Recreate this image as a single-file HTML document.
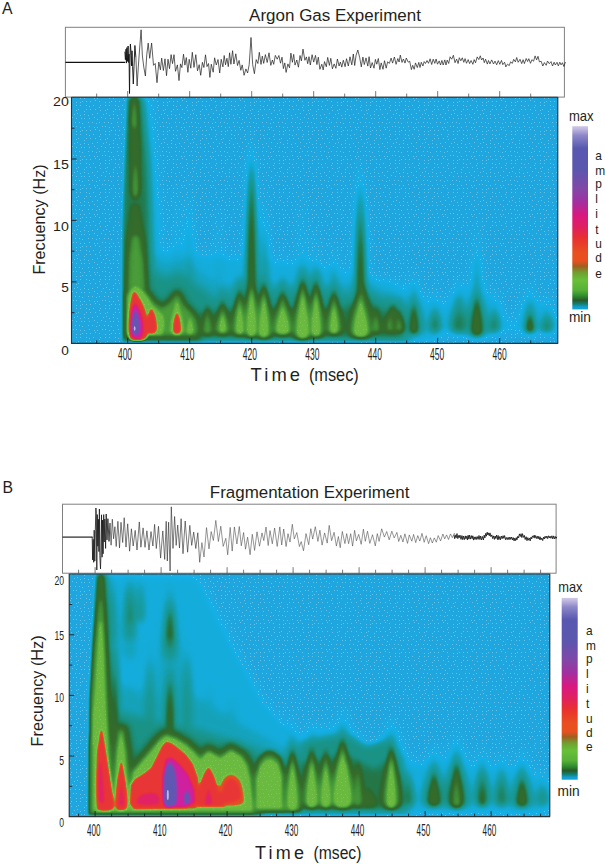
<!DOCTYPE html>
<html lang="en"><head><meta charset="utf-8"><title>Spectrograms</title>
<style>
html,body{margin:0;padding:0;background:#fff}
svg{display:block}
text{font-family:"Liberation Sans", sans-serif;fill:#231f20}
</style></head><body>
<svg width="605" height="864" viewBox="0 0 605 864">
<defs>
<filter id="cmA" filterUnits="userSpaceOnUse" x="71.5" y="97.5" width="486.3" height="245.9" color-interpolation-filters="sRGB">
<feComponentTransfer><feFuncR type="table" tableValues="0.129 0.128 0.126 0.125 0.124 0.122 0.121 0.119 0.118 0.113 0.109 0.104 0.100 0.096 0.091 0.087 0.082 0.082 0.081 0.081 0.080 0.080 0.079 0.079 0.078 0.079 0.080 0.081 0.082 0.083 0.084 0.085 0.086 0.088 0.089 0.090 0.092 0.093 0.094 0.095 0.097 0.098 0.099 0.101 0.102 0.104 0.106 0.108 0.110 0.112 0.114 0.116 0.118 0.120 0.122 0.128 0.134 0.141 0.147 0.153 0.160 0.166 0.173 0.176 0.180 0.183 0.187 0.191 0.194 0.198 0.201 0.205 0.208 0.212 0.216 0.218 0.221 0.223 0.225 0.228 0.230 0.233 0.235 0.244 0.253 0.262 0.271 0.279 0.288 0.297 0.306 0.318 0.329 0.341 0.353 0.365 0.376 0.388 0.400 0.403 0.406 0.410 0.413 0.416 0.419 0.422 0.426 0.429 0.432 0.435 0.439 0.442 0.445 0.448 0.451 0.455 0.458 0.461 0.464 0.467 0.471 0.481 0.491 0.501 0.511 0.521 0.531 0.541 0.602 0.664 0.725 0.786 0.847 0.856 0.865 0.874 0.882 0.891 0.900 0.909 0.918 0.917 0.917 0.916 0.915 0.915 0.914 0.914 0.913 0.913 0.912 0.911 0.911 0.910 0.910 0.907 0.904 0.900 0.897 0.894 0.891 0.888 0.885 0.882 0.878 0.872 0.866 0.860 0.853 0.847 0.841 0.835 0.828 0.822 0.816 0.784 0.753 0.722 0.690 0.659 0.627 0.596 0.565 0.541 0.517 0.493 0.469 0.445 0.421 0.397 0.373 0.411 0.449 0.487 0.525 0.563 0.601 0.639 0.677 0.715 0.753"/><feFuncG type="table" tableValues="0.651 0.653 0.655 0.657 0.659 0.661 0.663 0.665 0.667 0.670 0.673 0.675 0.678 0.681 0.684 0.687 0.690 0.687 0.684 0.681 0.678 0.675 0.673 0.670 0.667 0.661 0.656 0.650 0.645 0.640 0.634 0.629 0.624 0.620 0.616 0.613 0.609 0.606 0.602 0.598 0.595 0.591 0.588 0.584 0.580 0.572 0.564 0.556 0.547 0.539 0.531 0.523 0.515 0.506 0.498 0.488 0.477 0.467 0.457 0.447 0.436 0.426 0.416 0.416 0.417 0.418 0.418 0.419 0.420 0.420 0.421 0.422 0.422 0.423 0.424 0.439 0.455 0.471 0.486 0.502 0.518 0.533 0.549 0.560 0.571 0.581 0.592 0.603 0.614 0.625 0.635 0.645 0.655 0.665 0.675 0.684 0.694 0.704 0.714 0.716 0.719 0.721 0.724 0.726 0.729 0.731 0.734 0.736 0.739 0.741 0.744 0.746 0.749 0.751 0.754 0.756 0.759 0.761 0.764 0.766 0.769 0.748 0.728 0.708 0.688 0.668 0.648 0.627 0.577 0.527 0.477 0.427 0.376 0.363 0.349 0.335 0.322 0.308 0.294 0.280 0.267 0.261 0.255 0.250 0.244 0.239 0.233 0.227 0.222 0.216 0.211 0.205 0.199 0.194 0.188 0.182 0.176 0.169 0.163 0.157 0.151 0.144 0.138 0.132 0.125 0.125 0.125 0.125 0.125 0.125 0.125 0.125 0.125 0.125 0.125 0.141 0.157 0.173 0.188 0.204 0.220 0.235 0.251 0.263 0.275 0.286 0.298 0.310 0.322 0.333 0.345 0.383 0.420 0.458 0.496 0.533 0.571 0.609 0.646 0.684 0.722"/><feFuncB type="table" tableValues="0.871 0.873 0.875 0.876 0.878 0.880 0.882 0.884 0.886 0.889 0.892 0.895 0.898 0.901 0.904 0.907 0.910 0.900 0.890 0.880 0.871 0.861 0.851 0.841 0.831 0.813 0.794 0.775 0.757 0.738 0.720 0.701 0.682 0.670 0.658 0.645 0.633 0.620 0.608 0.595 0.583 0.571 0.558 0.546 0.533 0.515 0.496 0.477 0.458 0.439 0.420 0.402 0.383 0.364 0.345 0.325 0.306 0.286 0.267 0.247 0.227 0.208 0.188 0.186 0.184 0.182 0.180 0.178 0.176 0.175 0.173 0.171 0.169 0.167 0.165 0.171 0.176 0.182 0.188 0.194 0.200 0.206 0.212 0.214 0.216 0.218 0.220 0.222 0.224 0.225 0.227 0.229 0.231 0.233 0.235 0.237 0.239 0.241 0.243 0.244 0.245 0.246 0.247 0.248 0.250 0.251 0.252 0.253 0.254 0.255 0.256 0.257 0.258 0.259 0.260 0.261 0.262 0.263 0.265 0.266 0.267 0.255 0.244 0.233 0.222 0.211 0.199 0.188 0.174 0.160 0.146 0.132 0.118 0.123 0.127 0.132 0.137 0.142 0.147 0.152 0.157 0.162 0.168 0.174 0.179 0.185 0.190 0.196 0.202 0.207 0.213 0.218 0.224 0.230 0.235 0.256 0.276 0.296 0.317 0.337 0.358 0.378 0.398 0.419 0.439 0.458 0.477 0.496 0.515 0.533 0.552 0.571 0.590 0.609 0.627 0.635 0.643 0.651 0.659 0.667 0.675 0.682 0.690 0.692 0.694 0.696 0.698 0.700 0.702 0.704 0.706 0.725 0.744 0.762 0.781 0.800 0.819 0.838 0.856 0.875 0.894"/></feComponentTransfer></filter>
<filter id="cmB" filterUnits="userSpaceOnUse" x="69.2" y="574.2" width="480.6" height="242.4" color-interpolation-filters="sRGB">
<feComponentTransfer><feFuncR type="table" tableValues="0.129 0.128 0.126 0.125 0.124 0.122 0.121 0.119 0.118 0.113 0.109 0.104 0.100 0.096 0.091 0.087 0.082 0.082 0.081 0.081 0.080 0.080 0.079 0.079 0.078 0.079 0.080 0.081 0.082 0.083 0.084 0.085 0.086 0.088 0.089 0.090 0.092 0.093 0.094 0.095 0.097 0.098 0.099 0.101 0.102 0.104 0.106 0.108 0.110 0.112 0.114 0.116 0.118 0.120 0.122 0.128 0.134 0.141 0.147 0.153 0.160 0.166 0.173 0.176 0.180 0.183 0.187 0.191 0.194 0.198 0.201 0.205 0.208 0.212 0.216 0.218 0.221 0.223 0.225 0.228 0.230 0.233 0.235 0.244 0.253 0.262 0.271 0.279 0.288 0.297 0.306 0.318 0.329 0.341 0.353 0.365 0.376 0.388 0.400 0.403 0.406 0.410 0.413 0.416 0.419 0.422 0.426 0.429 0.432 0.435 0.439 0.442 0.445 0.448 0.451 0.455 0.458 0.461 0.464 0.467 0.471 0.481 0.491 0.501 0.511 0.521 0.531 0.541 0.602 0.664 0.725 0.786 0.847 0.856 0.865 0.874 0.882 0.891 0.900 0.909 0.918 0.917 0.917 0.916 0.915 0.915 0.914 0.914 0.913 0.913 0.912 0.911 0.911 0.910 0.910 0.907 0.904 0.900 0.897 0.894 0.891 0.888 0.885 0.882 0.878 0.872 0.866 0.860 0.853 0.847 0.841 0.835 0.828 0.822 0.816 0.784 0.753 0.722 0.690 0.659 0.627 0.596 0.565 0.541 0.517 0.493 0.469 0.445 0.421 0.397 0.373 0.411 0.449 0.487 0.525 0.563 0.601 0.639 0.677 0.715 0.753"/><feFuncG type="table" tableValues="0.651 0.653 0.655 0.657 0.659 0.661 0.663 0.665 0.667 0.670 0.673 0.675 0.678 0.681 0.684 0.687 0.690 0.687 0.684 0.681 0.678 0.675 0.673 0.670 0.667 0.661 0.656 0.650 0.645 0.640 0.634 0.629 0.624 0.620 0.616 0.613 0.609 0.606 0.602 0.598 0.595 0.591 0.588 0.584 0.580 0.572 0.564 0.556 0.547 0.539 0.531 0.523 0.515 0.506 0.498 0.488 0.477 0.467 0.457 0.447 0.436 0.426 0.416 0.416 0.417 0.418 0.418 0.419 0.420 0.420 0.421 0.422 0.422 0.423 0.424 0.439 0.455 0.471 0.486 0.502 0.518 0.533 0.549 0.560 0.571 0.581 0.592 0.603 0.614 0.625 0.635 0.645 0.655 0.665 0.675 0.684 0.694 0.704 0.714 0.716 0.719 0.721 0.724 0.726 0.729 0.731 0.734 0.736 0.739 0.741 0.744 0.746 0.749 0.751 0.754 0.756 0.759 0.761 0.764 0.766 0.769 0.748 0.728 0.708 0.688 0.668 0.648 0.627 0.577 0.527 0.477 0.427 0.376 0.363 0.349 0.335 0.322 0.308 0.294 0.280 0.267 0.261 0.255 0.250 0.244 0.239 0.233 0.227 0.222 0.216 0.211 0.205 0.199 0.194 0.188 0.182 0.176 0.169 0.163 0.157 0.151 0.144 0.138 0.132 0.125 0.125 0.125 0.125 0.125 0.125 0.125 0.125 0.125 0.125 0.125 0.141 0.157 0.173 0.188 0.204 0.220 0.235 0.251 0.263 0.275 0.286 0.298 0.310 0.322 0.333 0.345 0.383 0.420 0.458 0.496 0.533 0.571 0.609 0.646 0.684 0.722"/><feFuncB type="table" tableValues="0.871 0.873 0.875 0.876 0.878 0.880 0.882 0.884 0.886 0.889 0.892 0.895 0.898 0.901 0.904 0.907 0.910 0.900 0.890 0.880 0.871 0.861 0.851 0.841 0.831 0.813 0.794 0.775 0.757 0.738 0.720 0.701 0.682 0.670 0.658 0.645 0.633 0.620 0.608 0.595 0.583 0.571 0.558 0.546 0.533 0.515 0.496 0.477 0.458 0.439 0.420 0.402 0.383 0.364 0.345 0.325 0.306 0.286 0.267 0.247 0.227 0.208 0.188 0.186 0.184 0.182 0.180 0.178 0.176 0.175 0.173 0.171 0.169 0.167 0.165 0.171 0.176 0.182 0.188 0.194 0.200 0.206 0.212 0.214 0.216 0.218 0.220 0.222 0.224 0.225 0.227 0.229 0.231 0.233 0.235 0.237 0.239 0.241 0.243 0.244 0.245 0.246 0.247 0.248 0.250 0.251 0.252 0.253 0.254 0.255 0.256 0.257 0.258 0.259 0.260 0.261 0.262 0.263 0.265 0.266 0.267 0.255 0.244 0.233 0.222 0.211 0.199 0.188 0.174 0.160 0.146 0.132 0.118 0.123 0.127 0.132 0.137 0.142 0.147 0.152 0.157 0.162 0.168 0.174 0.179 0.185 0.190 0.196 0.202 0.207 0.213 0.218 0.224 0.230 0.235 0.256 0.276 0.296 0.317 0.337 0.358 0.378 0.398 0.419 0.439 0.458 0.477 0.496 0.515 0.533 0.552 0.571 0.590 0.609 0.627 0.635 0.643 0.651 0.659 0.667 0.675 0.682 0.690 0.692 0.694 0.696 0.698 0.700 0.702 0.704 0.706 0.725 0.744 0.762 0.781 0.800 0.819 0.838 0.856 0.875 0.894"/></feComponentTransfer></filter>
<filter id="thA" filterUnits="userSpaceOnUse" x="71.5" y="97.5" width="486.3" height="245.9" color-interpolation-filters="sRGB">
<feComponentTransfer><feFuncR type="discrete" tableValues="1 1 1 1 1 1 1 1 0 0 0 0 0 0 0 0 0 0 0 0 0 0 0 0 0 0 0 0 0 0 0 0 0 0 0 0 0 0 0 0 0 0 0 0 0 0 0 0 0.45 0.45 0.45 0.45 0.45 0.45 0.45 0.45 0.45 0.45 0.45 0.45 0.45 0.45 0.45 0 0 0 0 0 0 0 0 0 0 0 0 0 0 0 0 0 0 0 0 0 0 0 0 0 0 0 0 0 0 0 0 0 0 0 0 0 0"/><feFuncG type="discrete" tableValues="1 1 1 1 1 1 1 1 0 0 0 0 0 0 0 0 0 0 0 0 0 0 0 0 0 0 0 0 0 0 0 0 0 0 0 0 0 0 0 0 0 0 0 0 0 0 0 0 0.45 0.45 0.45 0.45 0.45 0.45 0.45 0.45 0.45 0.45 0.45 0.45 0.45 0.45 0.45 0 0 0 0 0 0 0 0 0 0 0 0 0 0 0 0 0 0 0 0 0 0 0 0 0 0 0 0 0 0 0 0 0 0 0 0 0 0"/><feFuncB type="discrete" tableValues="1 1 1 1 1 1 1 1 0 0 0 0 0 0 0 0 0 0 0 0 0 0 0 0 0 0 0 0 0 0 0 0 0 0 0 0 0 0 0 0 0 0 0 0 0 0 0 0 0.45 0.45 0.45 0.45 0.45 0.45 0.45 0.45 0.45 0.45 0.45 0.45 0.45 0.45 0.45 0 0 0 0 0 0 0 0 0 0 0 0 0 0 0 0 0 0 0 0 0 0 0 0 0 0 0 0 0 0 0 0 0 0 0 0 0 0"/></feComponentTransfer></filter>
<filter id="thB" filterUnits="userSpaceOnUse" x="69.2" y="574.2" width="480.6" height="242.4" color-interpolation-filters="sRGB">
<feComponentTransfer><feFuncR type="discrete" tableValues="1 1 1 1 1 1 1 1 0 0 0 0 0 0 0 0 0 0 0 0 0 0 0 0 0 0 0 0 0 0 0 0 0 0 0 0 0 0 0 0 0 0 0 0 0 0 0 0 0.45 0.45 0.45 0.45 0.45 0.45 0.45 0.45 0.45 0.45 0.45 0.45 0.45 0.45 0.45 0 0 0 0 0 0 0 0 0 0 0 0 0 0 0 0 0 0 0 0 0 0 0 0 0 0 0 0 0 0 0 0 0 0 0 0 0 0"/><feFuncG type="discrete" tableValues="1 1 1 1 1 1 1 1 0 0 0 0 0 0 0 0 0 0 0 0 0 0 0 0 0 0 0 0 0 0 0 0 0 0 0 0 0 0 0 0 0 0 0 0 0 0 0 0 0.45 0.45 0.45 0.45 0.45 0.45 0.45 0.45 0.45 0.45 0.45 0.45 0.45 0.45 0.45 0 0 0 0 0 0 0 0 0 0 0 0 0 0 0 0 0 0 0 0 0 0 0 0 0 0 0 0 0 0 0 0 0 0 0 0 0 0"/><feFuncB type="discrete" tableValues="1 1 1 1 1 1 1 1 0 0 0 0 0 0 0 0 0 0 0 0 0 0 0 0 0 0 0 0 0 0 0 0 0 0 0 0 0 0 0 0 0 0 0 0 0 0 0 0 0.45 0.45 0.45 0.45 0.45 0.45 0.45 0.45 0.45 0.45 0.45 0.45 0.45 0.45 0.45 0 0 0 0 0 0 0 0 0 0 0 0 0 0 0 0 0 0 0 0 0 0 0 0 0 0 0 0 0 0 0 0 0 0 0 0 0 0"/></feComponentTransfer></filter>
<filter id="b_cy" x="-50%" y="-50%" width="200%" height="200%" color-interpolation-filters="sRGB"><feGaussianBlur stdDeviation="5"/></filter>
<filter id="b_c2" x="-50%" y="-50%" width="200%" height="200%" color-interpolation-filters="sRGB"><feGaussianBlur stdDeviation="4.2"/></filter>
<filter id="b_tl" x="-50%" y="-50%" width="200%" height="200%" color-interpolation-filters="sRGB"><feGaussianBlur stdDeviation="3.6"/></filter>
<filter id="b_tg" x="-50%" y="-50%" width="200%" height="200%" color-interpolation-filters="sRGB"><feGaussianBlur stdDeviation="3.0"/></filter>
<filter id="b_dg" x="-50%" y="-50%" width="200%" height="200%" color-interpolation-filters="sRGB"><feGaussianBlur stdDeviation="2.3"/></filter>
<filter id="b_mg" x="-50%" y="-50%" width="200%" height="200%" color-interpolation-filters="sRGB"><feGaussianBlur stdDeviation="1.9"/></filter>
<filter id="b_lg" x="-50%" y="-50%" width="200%" height="200%" color-interpolation-filters="sRGB"><feGaussianBlur stdDeviation="1.8"/></filter>
<filter id="b_or" x="-50%" y="-50%" width="200%" height="200%" color-interpolation-filters="sRGB"><feGaussianBlur stdDeviation="1.3"/></filter>
<filter id="b_rd" x="-50%" y="-50%" width="200%" height="200%" color-interpolation-filters="sRGB"><feGaussianBlur stdDeviation="1.2"/></filter>
<filter id="b_pk" x="-50%" y="-50%" width="200%" height="200%" color-interpolation-filters="sRGB"><feGaussianBlur stdDeviation="1.2"/></filter>
<filter id="b_mag" x="-50%" y="-50%" width="200%" height="200%" color-interpolation-filters="sRGB"><feGaussianBlur stdDeviation="1.1"/></filter>
<filter id="b_pu" x="-50%" y="-50%" width="200%" height="200%" color-interpolation-filters="sRGB"><feGaussianBlur stdDeviation="0.9"/></filter>
<filter id="b_lav" x="-50%" y="-50%" width="200%" height="200%" color-interpolation-filters="sRGB"><feGaussianBlur stdDeviation="0.6"/></filter>
<pattern id="dots" width="29" height="29" patternUnits="userSpaceOnUse"><g fill="#fff" opacity=".3"><rect x="2" y="2" width="1" height="1"/><rect x="5" y="6" width="1" height="1"/><rect x="2" y="10" width="1" height="1"/><rect x="3" y="14" width="1" height="1"/><rect x="2" y="19" width="1" height="1"/><rect x="3" y="22" width="1" height="1"/><rect x="1" y="28" width="1" height="1"/><rect x="7" y="1" width="1" height="1"/><rect x="9" y="7" width="1" height="1"/><rect x="7" y="11" width="1" height="1"/><rect x="8" y="13" width="1" height="1"/><rect x="6" y="18" width="1" height="1"/><rect x="8" y="22" width="1" height="1"/><rect x="5" y="27" width="1" height="1"/><rect x="10" y="3" width="1" height="1"/><rect x="12" y="6" width="1" height="1"/><rect x="10" y="11" width="1" height="1"/><rect x="12" y="14" width="1" height="1"/><rect x="12" y="20" width="1" height="1"/><rect x="13" y="23" width="1" height="1"/><rect x="10" y="26" width="1" height="1"/><rect x="14" y="1" width="1" height="1"/><rect x="17" y="6" width="1" height="1"/><rect x="15" y="10" width="1" height="1"/><rect x="18" y="15" width="1" height="1"/><rect x="13" y="18" width="1" height="1"/><rect x="18" y="23" width="1" height="1"/><rect x="16" y="27" width="1" height="1"/><rect x="18" y="2" width="1" height="1"/><rect x="21" y="6" width="1" height="1"/><rect x="18" y="10" width="1" height="1"/><rect x="22" y="15" width="1" height="1"/><rect x="18" y="18" width="1" height="1"/><rect x="20" y="22" width="1" height="1"/><rect x="19" y="26" width="1" height="1"/><rect x="23" y="2" width="1" height="1"/><rect x="24" y="7" width="1" height="1"/><rect x="22" y="11" width="1" height="1"/><rect x="24" y="14" width="1" height="1"/><rect x="22" y="18" width="1" height="1"/><rect x="26" y="24" width="1" height="1"/><rect x="22" y="28" width="1" height="1"/><rect x="26" y="2" width="1" height="1"/><rect x="1" y="6" width="1" height="1"/><rect x="26" y="11" width="1" height="1"/><rect x="28" y="14" width="1" height="1"/><rect x="28" y="18" width="1" height="1"/><rect x="28" y="22" width="1" height="1"/><rect x="26" y="27" width="1" height="1"/></g></pattern>
<linearGradient id="cbar" x1="0" y1="1" x2="0" y2="0">
<stop offset="0" stop-color="#12a2dc"/>
<stop offset="0.012" stop-color="#10a0d8"/>
<stop offset="0.03" stop-color="#108070"/>
<stop offset="0.05" stop-color="#285828"/>
<stop offset="0.075" stop-color="#309030"/>
<stop offset="0.105" stop-color="#58b038"/>
<stop offset="0.16" stop-color="#68c038"/>
<stop offset="0.2" stop-color="#70a030"/>
<stop offset="0.235" stop-color="#a06020"/>
<stop offset="0.265" stop-color="#e85020"/>
<stop offset="0.31" stop-color="#e85020"/>
<stop offset="0.39" stop-color="#e83030"/>
<stop offset="0.45" stop-color="#e02060"/>
<stop offset="0.515" stop-color="#d81880"/>
<stop offset="0.59" stop-color="#a030a0"/>
<stop offset="0.66" stop-color="#8048a8"/>
<stop offset="0.76" stop-color="#5c56ae"/>
<stop offset="0.88" stop-color="#5858b0"/>
<stop offset="0.95" stop-color="#8c88c8"/>
<stop offset="0.985" stop-color="#c0b8e0"/>
<stop offset="1" stop-color="#cfc8e8"/>
</linearGradient></defs>
<rect width="605" height="864" fill="#fff"/>
<!-- panel A -->
<text x="2.0" y="13.6" font-size="15.8">A</text>
<text x="249.1" y="20.8" font-size="17.2" textLength="171.8" lengthAdjust="spacingAndGlyphs" text-anchor="start" >Argon Gas Experiment</text>
<rect x="65.4" y="27.3" width="499.0" height="69.8" fill="#fff" stroke="#808080" stroke-width="1"/>
<path d="M96.7,97.1 v-3.5 M127.7,97.1 v-6 M158.7,97.1 v-3.5 M189.7,97.1 v-6 M220.7,97.1 v-3.5 M251.7,97.1 v-6 M282.7,97.1 v-3.5 M313.7,97.1 v-6 M344.7,97.1 v-3.5 M375.7,97.1 v-6 M406.7,97.1 v-3.5 M437.7,97.1 v-6 M468.7,97.1 v-3.5 M499.7,97.1 v-6 M530.7,97.1 v-3.5" stroke="#555" stroke-width="0.8" fill="none"/>
<polyline points="65.4,62.3 125.2,62.3" fill="none" stroke="#111" stroke-width="1.3" stroke-linejoin="round"/>
<polyline points="124.9,51.7 125.4,59.7 126.0,49.2 126.4,63.1 126.9,47.6 127.5,61.4 128.1,46.0 128.6,62.5 129.0,54.1 129.5,93.5 130.0,55.3 130.4,44.0 131.0,52.3 131.5,65.9 132.0,50.8 132.6,66.7 133.3,84.0 134.0,66.2 134.9,45.5 135.9,57.6" fill="none" stroke="#111" stroke-width="0.9" stroke-linejoin="round"/>
<polyline points="135.9,57.6 137.1,86.0 138.3,67.1 139.8,46.0 141.1,29.8 142.4,56.0 143.8,67.2 145.4,76.0 146.8,54.3 148.2,43.1 149.7,58.3 151.6,43.0 153.5,65.3 155.2,63.5 157.0,82.7 158.8,62.0 160.4,69.8 161.7,58.1 163.4,70.5 165.0,58.8 166.5,75.7 168.0,59.2 169.5,68.7 171.1,54.6 172.5,63.6 174.0,54.7 175.5,71.3 177.4,64.9 179.0,80.6 180.5,63.9 181.9,67.6 183.5,54.2 184.9,65.1 186.3,57.6 187.9,72.3 189.2,59.3 190.8,68.2 192.3,52.3 194.0,67.4 195.8,54.7 197.5,70.8 199.2,64.7 200.7,75.3 202.4,62.3 203.9,67.5 205.5,54.8 207.0,66.6 208.5,63.5 209.9,77.4 211.3,64.2 213.2,72.2 214.6,57.8 216.3,65.0 218.0,59.5 219.7,73.0 221.2,59.3 222.9,66.9 224.2,55.5 225.5,64.8 226.9,58.3 228.3,66.7 229.6,52.8 230.9,64.3 232.6,50.7 233.9,64.0 235.8,53.8 237.5,65.5 239.1,60.4 240.8,70.3 242.2,64.9 244.1,75.3 245.9,68.9 247.6,73.0 249.2,64.6 251.0,37.5 252.7,64.7 254.4,73.7 256.2,59.6 257.9,63.5 259.3,52.3 261.0,64.4 262.3,56.1 263.7,63.4 265.4,54.6 267.2,62.5 269.0,52.8 270.8,65.4 272.4,60.0 273.7,64.3 275.3,55.4 277.2,59.2 278.9,55.5 280.5,63.2 282.0,57.2 283.4,68.6 284.8,62.9 286.1,72.4 287.9,63.9 289.5,67.8 290.9,53.1 292.4,62.3 293.7,54.4 295.0,65.1 296.8,60.0 298.4,67.2 300.0,55.5 301.4,60.9 303.0,49.1 304.9,60.3 306.4,56.9 307.7,63.7 309.0,56.7 310.3,65.0 312.1,54.7 313.7,62.1 315.5,55.4 316.9,64.6 318.3,57.2 319.9,69.3 321.8,64.2 323.2,69.9 324.5,61.6 326.3,66.8 327.7,57.4 329.4,65.4 330.8,58.3 332.4,68.8 334.2,63.9 335.9,68.3 337.4,59.0 339.1,66.0 340.4,62.0 341.8,67.1 343.3,60.2 345.1,66.7 346.5,58.7 348.3,66.0 350.0,56.8 351.8,64.9 353.3,54.0 354.7,65.5 356.1,55.2 357.8,50.0 359.7,57.6 361.3,66.9 362.9,57.1 364.3,64.6 366.0,57.9 367.8,66.1 369.1,56.7 370.5,68.0 372.2,62.6 374.0,68.2 375.4,59.4 376.8,64.2 378.3,58.5 379.9,69.6 381.2,62.9 383.0,69.3 384.5,60.7 386.2,68.2 387.6,61.8 389.4,63.4 391.1,58.1 392.6,63.1 394.4,57.0 396.1,64.3 397.8,58.5 399.1,62.0 400.3,55.1 402.0,62.4 403.4,59.0 405.0,63.1 406.3,58.0 408.2,62.2 409.7,61.2 411.4,69.6 412.7,65.3 414.2,69.3 415.5,62.9 417.3,67.6 418.8,62.4 420.0,67.5 421.3,62.3 422.9,66.0 424.2,61.6 425.5,63.5 427.0,60.5 428.5,63.3 430.1,58.8 431.7,64.5 433.2,59.2 434.8,63.4 436.1,59.0 437.5,64.2 439.2,60.9 440.5,65.0 441.9,60.4 443.2,65.0 444.8,59.9 446.0,65.0 447.2,60.1 448.7,63.5 450.1,56.8 451.7,59.2 453.4,55.3 455.0,62.7 456.6,59.1 458.1,63.5 459.3,57.7 460.8,60.8 462.3,57.8 463.8,62.3 465.1,58.6 466.5,63.3 468.2,59.6 469.6,63.6 471.1,60.5 472.9,64.3 474.2,59.6 475.5,62.8 477.2,56.9 478.8,59.6 480.3,55.8 481.6,60.0 483.1,58.0 484.3,62.7 485.6,59.2 487.3,64.1 488.5,60.5 489.9,63.9 491.7,59.9 493.5,64.0 495.0,61.1 496.7,64.8 498.3,60.6 499.8,64.3 501.5,60.4 502.8,64.7 504.6,62.2 505.8,66.9 507.5,64.1 509.2,65.7 510.6,61.8 512.3,63.4 513.7,59.3 515.4,61.9 516.7,57.5 518.2,62.3 520.0,59.3 521.7,63.6 523.1,59.7 524.4,63.6 526.2,58.5 527.6,61.5 528.8,58.7 530.5,63.3 531.9,59.7 533.6,61.2 535.1,55.9 536.6,59.9 538.0,56.3 539.4,61.9 541.2,61.3 542.8,66.0 544.4,62.6 546.2,65.3 547.5,61.1 549.3,63.7 551.0,61.6 552.5,66.0 554.1,62.2 555.3,65.0 557.0,62.3 558.3,65.9 559.8,62.2 561.1,64.9 562.4,62.7 563.9,66.5 565.4,62.0" fill="none" stroke="#222" stroke-width="0.72" stroke-linejoin="round"/>
<defs>
<g id="f_cmA">
<rect x="51.5" y="77.5" width="526.3" height="285.9" fill="#000"/>
<g filter="url(#b_cy)" fill="#1b1b1b">
<path d="M122.0,343.0 L122.0,255.0 L160.0,250.0 L300.0,262.0 L400.0,282.0 L445.0,343.0Z M121.5,97.0 L151.0,97.0 L160.0,200.0 L166.0,290.0 L117.0,290.0Z M207.5,273.0 C213.8,289.6 228.5,309.6 228.5,330.2 C228.5,341.5 186.5,341.5 186.5,330.2 C186.5,309.6 201.2,289.6 207.5,273.0Z M222.6,269.0 C229.8,286.6 246.6,307.8 246.6,329.6 C246.6,341.6 198.6,341.6 198.6,329.6 C198.6,307.8 215.4,286.6 222.6,269.0Z M239.7,257.0 C246.9,277.9 263.8,302.9 263.8,328.8 C263.8,343.0 215.6,343.0 215.6,328.8 C215.6,302.9 232.5,277.9 239.7,257.0Z M251.6,244.0 C259.1,268.6 276.6,298.2 276.6,328.7 C276.6,345.5 226.5,345.5 226.5,328.7 C226.5,298.2 244.1,268.6 251.6,244.0Z M263.8,250.0 C271.3,273.2 288.9,301.1 288.9,329.9 C288.9,345.7 238.8,345.7 238.8,329.9 C238.8,301.1 256.3,273.2 263.8,250.0Z M282.7,259.0 C290.7,279.4 309.5,303.8 309.5,329.1 C309.5,342.9 255.9,342.9 255.9,329.1 C255.9,303.8 274.7,279.4 282.7,259.0Z M302.7,246.0 C310.6,270.2 329.0,299.3 329.0,329.3 C329.0,345.8 276.4,345.8 276.4,329.3 C276.4,299.3 294.8,270.2 302.7,246.0Z M316.0,248.0 C323.4,271.6 340.8,300.0 340.8,329.3 C340.8,345.3 291.2,345.3 291.2,329.3 C291.2,300.0 308.6,271.6 316.0,248.0Z M334.0,258.0 C341.3,278.4 358.3,302.8 358.3,328.1 C358.3,341.9 309.7,341.9 309.7,328.1 C309.7,302.8 326.7,278.4 334.0,258.0Z M360.8,253.0 C369.0,275.5 388.1,302.4 388.1,330.3 C388.1,345.6 333.5,345.6 333.5,330.3 C333.5,302.4 352.6,275.5 360.8,253.0Z M375.9,275.0 C382.0,290.6 396.4,309.4 396.4,328.8 C396.4,339.4 355.4,339.4 355.4,328.8 C355.4,309.4 369.8,290.6 375.9,275.0Z M390.0,276.0 C395.9,291.1 409.8,309.3 409.8,328.0 C409.8,338.3 370.2,338.3 370.2,328.0 C370.2,309.3 384.1,291.1 390.0,276.0Z M399.0,278.0 C404.9,292.6 418.8,310.2 418.8,328.3 C418.8,338.3 379.2,338.3 379.2,328.3 C379.2,310.2 393.1,292.6 399.0,278.0Z M413.9,272.0 C419.3,288.5 431.9,308.2 431.9,328.7 C431.9,339.9 395.9,339.9 395.9,328.7 C395.9,308.2 408.5,288.5 413.9,272.0Z M435.0,286.0 C439.1,298.2 448.5,312.9 448.5,328.1 C448.5,336.5 421.5,336.5 421.5,328.1 C421.5,312.9 430.9,298.2 435.0,286.0Z M459.0,275.0 C464.2,290.2 476.5,308.6 476.5,327.5 C476.5,337.8 441.5,337.8 441.5,327.5 C441.5,308.6 453.8,290.2 459.0,275.0Z M476.8,265.0 C482.6,283.7 496.1,306.2 496.1,329.4 C496.1,342.1 457.6,342.1 457.6,329.4 C457.6,306.2 471.0,283.7 476.8,265.0Z M494.5,287.0 C498.2,299.0 507.0,313.4 507.0,328.3 C507.0,336.4 482.0,336.4 482.0,328.3 C482.0,313.4 490.8,299.0 494.5,287.0Z M510.6,316.0 C512.1,320.0 515.6,324.8 515.6,329.8 C515.6,332.5 505.6,332.5 505.6,329.8 C505.6,324.8 509.1,320.0 510.6,316.0Z M530.0,281.0 C534.2,294.8 544.0,311.2 544.0,328.3 C544.0,337.6 516.0,337.6 516.0,328.3 C516.0,311.2 525.8,294.8 530.0,281.0Z M547.0,293.0 C551.2,303.2 561.0,315.6 561.0,328.3 C561.0,335.2 533.0,335.2 533.0,328.3 C533.0,315.6 542.8,303.2 547.0,293.0Z M251.6,118.0 C254.3,168.5 260.6,229.1 260.6,291.7 C260.6,326.1 242.6,326.1 242.6,291.7 C242.6,229.1 248.9,168.5 251.6,118.0Z M360.5,148.0 C363.5,191.0 370.5,242.6 370.5,295.9 C370.5,325.2 350.5,325.2 350.5,295.9 C350.5,242.6 357.5,191.0 360.5,148.0Z M476.8,212.0 C478.8,239.0 483.3,271.4 483.3,304.9 C483.3,323.2 470.3,323.2 470.3,304.9 C470.3,271.4 474.9,239.0 476.8,212.0Z M413.9,262.0 C415.7,276.5 419.9,293.9 419.9,311.9 C419.9,321.7 407.9,321.7 407.9,311.9 C407.9,293.9 412.1,276.5 413.9,262.0Z M334.0,235.0 C336.4,256.2 342.0,281.8 342.0,308.1 C342.0,322.6 326.0,322.6 326.0,308.1 C326.0,281.8 331.6,256.2 334.0,235.0Z M176.5,170.0 C177.8,202.5 181.0,241.5 181.0,281.8 C181.0,303.9 172.0,303.9 172.0,281.8 C172.0,241.5 175.2,202.5 176.5,170.0Z M189.4,165.0 C190.9,198.8 194.4,239.2 194.4,281.1 C194.4,304.1 184.4,304.1 184.4,281.1 C184.4,239.2 187.9,198.8 189.4,165.0Z M219.5,195.0 C220.8,221.2 224.0,252.8 224.0,285.3 C224.0,303.1 215.0,303.1 215.0,285.3 C215.0,252.8 218.2,221.2 219.5,195.0Z M264.6,178.0 C266.1,208.5 269.6,245.1 269.6,282.9 C269.6,303.7 259.6,303.7 259.6,282.9 C259.6,245.1 263.1,208.5 264.6,178.0Z M302.0,180.0 C303.4,210.0 306.5,246.0 306.5,283.2 C306.5,303.6 297.5,303.6 297.5,283.2 C297.5,246.0 300.6,210.0 302.0,180.0Z M316.0,215.0 C317.4,236.2 320.5,261.8 320.5,288.1 C320.5,302.6 311.5,302.6 311.5,288.1 C311.5,261.8 314.6,236.2 316.0,215.0Z M207.0,240.0 C208.3,255.0 211.5,273.0 211.5,291.6 C211.5,301.8 202.5,301.8 202.5,291.6 C202.5,273.0 205.7,255.0 207.0,240.0Z M239.7,250.0 C241.2,262.5 244.7,277.5 244.7,293.0 C244.7,301.5 234.7,301.5 234.7,293.0 C234.7,277.5 238.2,262.5 239.7,250.0Z M282.7,245.0 C284.2,258.8 287.7,275.2 287.7,292.3 C287.7,301.6 277.7,301.6 277.7,292.3 C277.7,275.2 281.2,258.8 282.7,245.0Z"/>
</g>
<g filter="url(#b_c2)" fill="#262626">
<path d="M124.0,343.0 L124.0,282.0 L200.0,284.0 L330.0,288.0 L362.0,280.0 L405.0,300.0 L415.0,343.0Z M118.0,300.0 L118.0,258.0 L135.0,248.0 L152.0,255.0 L166.0,264.0 L180.0,258.0 L196.0,268.0 L218.0,285.0 L225.0,310.0Z M176.5,232.0 C177.6,249.0 180.0,269.4 180.0,290.5 C180.0,302.0 173.0,302.0 173.0,290.5 C173.0,269.4 175.4,249.0 176.5,232.0Z M189.4,200.0 C190.5,225.0 192.9,255.0 192.9,286.0 C192.9,303.0 185.9,303.0 185.9,286.0 C185.9,255.0 188.3,225.0 189.4,200.0Z M219.5,250.0 C220.4,262.5 222.5,277.5 222.5,293.0 C222.5,301.5 216.5,301.5 216.5,293.0 C216.5,277.5 218.6,262.5 219.5,250.0Z M264.6,205.0 C265.7,230.0 268.1,260.0 268.1,291.0 C268.1,308.0 261.1,308.0 261.1,291.0 C261.1,260.0 263.6,230.0 264.6,205.0Z M302.0,245.0 C303.0,258.8 305.2,275.2 305.2,292.3 C305.2,301.6 298.8,301.6 298.8,292.3 C298.8,275.2 301.0,258.8 302.0,245.0Z M316.0,258.0 C316.9,268.5 319.0,281.1 319.0,294.1 C319.0,301.3 313.0,301.3 313.0,294.1 C313.0,281.1 315.1,268.5 316.0,258.0Z M239.7,270.0 C240.8,277.5 243.2,286.5 243.2,295.8 C243.2,300.9 236.2,300.9 236.2,295.8 C236.2,286.5 238.6,277.5 239.7,270.0Z M282.7,272.0 C283.8,279.0 286.2,287.4 286.2,296.1 C286.2,300.8 279.2,300.8 279.2,296.1 C279.2,287.4 281.6,279.0 282.7,272.0Z"/>
</g>
<g filter="url(#b_tl)" fill="#393939">
<path d="M125.0,340.0 L125.0,296.0 L200.0,298.0 L300.0,300.0 L340.0,298.0 L362.0,290.0 L385.0,300.0 L402.0,310.0 L408.0,322.0 L408.0,340.0Z M125.0,97.0 L143.5,97.0 L150.0,160.0 L154.0,290.0 L119.5,290.0Z M120.0,300.0 L120.0,270.0 L135.0,262.0 L150.0,268.0 L165.0,278.0 L178.0,272.0 L192.0,282.0 L210.0,295.0 L215.0,310.0Z M207.5,290.0 C211.6,301.9 221.0,316.1 221.0,330.9 C221.0,338.9 194.0,338.9 194.0,330.9 C194.0,316.1 203.4,301.9 207.5,290.0Z M222.6,286.0 C227.5,298.9 239.1,314.3 239.1,330.3 C239.1,339.0 206.1,339.0 206.1,330.3 C206.1,314.3 217.7,298.9 222.6,286.0Z M239.7,274.0 C244.7,290.1 256.2,309.5 256.2,329.5 C256.2,340.4 223.1,340.4 223.1,329.5 C223.1,309.5 234.7,290.1 239.7,274.0Z M251.6,261.0 C256.9,280.9 269.1,304.7 269.1,329.4 C269.1,342.9 234.0,342.9 234.0,329.4 C234.0,304.7 246.3,280.9 251.6,261.0Z M263.8,267.0 C269.1,285.6 281.4,308.0 281.4,331.1 C281.4,343.7 246.2,343.7 246.2,331.1 C246.2,308.0 258.5,285.6 263.8,267.0Z M282.7,276.0 C288.5,291.6 302.0,310.4 302.0,329.8 C302.0,340.4 263.4,340.4 263.4,329.8 C263.4,310.4 276.9,291.6 282.7,276.0Z M302.7,263.0 C308.3,282.9 321.5,306.7 321.5,331.4 C321.5,344.9 283.9,344.9 283.9,331.4 C283.9,306.7 297.1,282.9 302.7,263.0Z M316.0,265.0 C321.2,283.9 333.3,306.5 333.3,329.9 C333.3,342.8 298.7,342.8 298.7,329.9 C298.7,306.5 310.8,283.9 316.0,265.0Z M334.0,275.0 C339.0,290.6 350.8,309.4 350.8,328.8 C350.8,339.4 317.2,339.4 317.2,328.8 C317.2,309.4 329.0,290.6 334.0,275.0Z M360.8,270.0 C366.7,287.8 380.6,309.1 380.6,331.1 C380.6,343.1 341.0,343.1 341.0,331.1 C341.0,309.1 354.9,287.8 360.8,270.0Z M375.9,292.0 C379.8,302.9 388.9,315.9 388.9,329.4 C388.9,336.8 362.9,336.8 362.9,329.4 C362.9,315.9 372.0,302.9 375.9,292.0Z M390.0,293.0 C393.7,303.4 402.2,315.8 402.2,328.7 C402.2,335.7 377.8,335.7 377.8,328.7 C377.8,315.8 386.3,303.4 390.0,293.0Z M399.0,295.0 C402.7,304.9 411.2,316.7 411.2,329.0 C411.2,335.7 386.8,335.7 386.8,329.0 C386.8,316.7 395.3,304.9 399.0,295.0Z M413.9,289.0 C417.0,300.7 424.4,314.8 424.4,329.3 C424.4,337.3 403.4,337.3 403.4,329.3 C403.4,314.8 410.8,300.7 413.9,289.0Z M435.0,303.0 C436.8,310.5 441.0,319.5 441.0,328.8 C441.0,333.9 429.0,333.9 429.0,328.8 C429.0,319.5 433.2,310.5 435.0,303.0Z M459.0,292.0 C462.0,302.5 469.0,315.1 469.0,328.1 C469.0,335.3 449.0,335.3 449.0,328.1 C449.0,315.1 456.0,302.5 459.0,292.0Z M476.8,282.0 C480.3,296.0 488.6,312.7 488.6,330.1 C488.6,339.6 465.1,339.6 465.1,330.1 C465.1,312.7 473.3,296.0 476.8,282.0Z M494.5,304.0 C496.0,311.2 499.5,319.9 499.5,328.9 C499.5,333.9 489.5,333.9 489.5,328.9 C489.5,319.9 493.0,311.2 494.5,304.0Z M530.0,298.0 C532.0,307.0 536.5,317.8 536.5,329.0 C536.5,335.1 523.5,335.1 523.5,329.0 C523.5,317.8 528.0,307.0 530.0,298.0Z M547.0,310.0 C549.0,315.5 553.5,322.1 553.5,328.9 C553.5,332.7 540.5,332.7 540.5,328.9 C540.5,322.1 545.0,315.5 547.0,310.0Z M251.6,138.0 C253.4,183.5 257.6,238.1 257.6,294.5 C257.6,325.5 245.6,325.5 245.6,294.5 C245.6,238.1 249.8,183.5 251.6,138.0Z M360.5,166.0 C362.1,204.5 366.0,250.7 366.0,298.4 C366.0,324.6 355.0,324.6 355.0,298.4 C355.0,250.7 358.9,204.5 360.5,166.0Z M476.8,245.0 C477.6,263.8 479.6,286.2 479.6,309.5 C479.6,322.2 474.1,322.2 474.1,309.5 C474.1,286.2 476.0,263.8 476.8,245.0Z M413.9,282.0 C414.8,291.5 416.9,302.9 416.9,314.7 C416.9,321.1 410.9,321.1 410.9,314.7 C410.9,302.9 413.0,291.5 413.9,282.0Z M334.0,262.0 C335.4,276.5 338.5,293.9 338.5,311.9 C338.5,321.7 329.5,321.7 329.5,311.9 C329.5,293.9 332.6,276.5 334.0,262.0Z M176.5,264.0 C177.2,273.0 178.8,283.8 178.8,295.0 C178.8,301.1 174.2,301.1 174.2,295.0 C174.2,283.8 175.8,273.0 176.5,264.0Z M189.4,252.0 C190.2,264.0 191.9,278.4 191.9,293.3 C191.9,301.4 186.9,301.4 186.9,293.3 C186.9,278.4 188.7,264.0 189.4,252.0Z M264.6,222.0 C265.4,242.8 267.1,267.6 267.1,293.4 C267.1,307.5 262.1,307.5 262.1,293.4 C262.1,267.6 263.9,242.8 264.6,222.0Z M239.7,284.0 C240.4,288.0 242.2,292.8 242.2,297.8 C242.2,300.5 237.2,300.5 237.2,297.8 C237.2,292.8 238.9,288.0 239.7,284.0Z"/>
<path d="M127.0,335.0 L127.0,295.0 L130.0,288.0 L135.0,284.5 L140.5,287.0 L147.0,294.0 L154.0,303.0 L162.0,308.5 L169.0,304.0 L174.5,298.0 L177.0,294.5 L179.5,298.0 L183.0,305.0 L190.0,312.0 L195.5,319.0 L197.5,328.0 L196.5,335.0Z" stroke="#393939" stroke-width="19.6" stroke-linejoin="round"/>
</g>
<g filter="url(#b_tg)" fill="#494949">
<path d="M200.0,337.0 L200.0,312.0 L260.0,308.0 L300.0,310.0 L340.0,310.0 L362.0,300.0 L385.0,312.0 L400.0,320.0 L402.0,337.0Z M128.5,97.0 L140.0,97.0 L146.0,180.0 L150.0,290.0 L122.0,290.0 L124.5,200.0Z M459.0,310.0 C460.4,315.2 463.5,321.6 463.5,328.1 C463.5,331.6 454.5,331.6 454.5,328.1 C454.5,321.6 457.6,315.2 459.0,310.0Z M494.5,312.0 C495.2,316.8 497.0,322.4 497.0,328.3 C497.0,331.6 492.0,331.6 492.0,328.3 C492.0,322.4 493.8,316.8 494.5,312.0Z M435.0,312.0 C435.8,316.8 437.8,322.4 437.8,328.3 C437.8,331.6 432.2,331.6 432.2,328.3 C432.2,322.4 434.2,316.8 435.0,312.0Z M547.0,320.0 C547.8,322.8 549.5,326.1 549.5,329.5 C549.5,331.3 544.5,331.3 544.5,329.5 C544.5,326.1 546.2,322.8 547.0,320.0Z M251.6,150.0 C252.7,192.5 255.3,243.5 255.3,296.2 C255.3,325.1 247.8,325.1 247.8,296.2 C247.8,243.5 250.5,192.5 251.6,150.0Z M360.5,183.0 C361.5,217.2 363.8,258.4 363.8,300.8 C363.8,324.1 357.2,324.1 357.2,300.8 C357.2,258.4 359.5,217.2 360.5,183.0Z"/>
<path d="M127.0,335.0 L127.0,295.0 L130.0,288.0 L135.0,284.5 L140.5,287.0 L147.0,294.0 L154.0,303.0 L162.0,308.5 L169.0,304.0 L174.5,298.0 L177.0,294.5 L179.5,298.0 L183.0,305.0 L190.0,312.0 L195.5,319.0 L197.5,328.0 L196.5,335.0Z" stroke="#494949" stroke-width="12.8" stroke-linejoin="round"/>
</g>
<g filter="url(#b_dg)" fill="#5c5c5c">
<path d="M131.0,97.0 L137.5,97.0 L139.8,150.0 L139.3,190.0 L134.5,200.0 L131.0,190.0 L130.0,150.0Z M132.0,205.0 L138.0,205.0 L145.0,240.0 L148.0,290.0 L125.0,290.0 L126.5,240.0Z M207.5,304.0 C209.6,311.9 214.5,321.4 214.5,331.2 C214.5,336.5 200.5,336.5 200.5,331.2 C200.5,321.4 205.4,311.9 207.5,304.0Z M222.6,300.0 C225.6,308.9 232.6,319.6 232.6,330.6 C232.6,336.7 212.6,336.7 212.6,330.6 C212.6,319.6 219.6,308.9 222.6,300.0Z M239.7,288.0 C242.7,300.1 249.8,314.7 249.8,329.8 C249.8,338.1 229.6,338.1 229.6,329.8 C229.6,314.7 236.7,300.1 239.7,288.0Z M251.6,275.0 C254.9,290.9 262.6,310.0 262.6,329.7 C262.6,340.5 240.5,340.5 240.5,329.7 C240.5,310.0 248.3,290.9 251.6,275.0Z M263.8,281.0 C267.1,295.6 274.9,313.2 274.9,331.4 C274.9,341.4 252.8,341.4 252.8,331.4 C252.8,313.2 260.5,295.6 263.8,281.0Z M282.7,290.0 C286.5,301.6 295.5,315.6 295.5,330.1 C295.5,338.0 269.9,338.0 269.9,330.1 C269.9,315.6 278.9,301.6 282.7,290.0Z M302.7,277.0 C306.4,292.9 315.0,312.0 315.0,331.7 C315.0,342.5 290.4,342.5 290.4,331.7 C290.4,312.0 299.0,292.9 302.7,277.0Z M316.0,279.0 C319.2,293.9 326.8,311.8 326.8,330.3 C326.8,340.4 305.2,340.4 305.2,330.3 C305.2,311.8 312.8,293.9 316.0,279.0Z M334.0,289.0 C337.1,300.6 344.3,314.6 344.3,329.1 C344.3,337.0 323.7,337.0 323.7,329.1 C323.7,314.6 330.9,300.6 334.0,289.0Z M360.8,284.0 C364.8,297.8 374.1,314.3 374.1,331.4 C374.1,340.8 347.5,340.8 347.5,331.4 C347.5,314.3 356.8,297.8 360.8,284.0Z M375.9,306.0 C377.8,312.9 382.4,321.2 382.4,329.7 C382.4,334.4 369.4,334.4 369.4,329.7 C369.4,321.2 373.9,312.9 375.9,306.0Z M390.0,307.0 C391.7,313.4 395.8,321.1 395.8,329.0 C395.8,333.4 384.2,333.4 384.2,329.0 C384.2,321.1 388.3,313.4 390.0,307.0Z M399.0,309.0 C400.7,314.9 404.8,322.0 404.8,329.3 C404.8,333.3 393.2,333.3 393.2,329.3 C393.2,322.0 397.3,314.9 399.0,309.0Z M413.9,303.0 C415.1,310.8 417.9,320.1 417.9,329.7 C417.9,334.9 409.9,334.9 409.9,329.7 C409.9,320.1 412.7,310.8 413.9,303.0Z M476.8,296.0 C478.4,306.0 482.1,318.0 482.1,330.4 C482.1,337.2 471.6,337.2 471.6,330.4 C471.6,318.0 475.2,306.0 476.8,296.0Z M530.0,313.0 C531.0,317.8 533.5,323.4 533.5,329.3 C533.5,332.6 526.5,332.6 526.5,329.3 C526.5,323.4 529.0,317.8 530.0,313.0Z M393.0,304.0 C396.3,311.4 404.0,320.2 404.0,329.4 C404.0,334.4 382.0,334.4 382.0,329.4 C382.0,320.2 389.7,311.4 393.0,304.0Z M334.0,289.0 C336.7,300.5 343.0,314.3 343.0,328.6 C343.0,336.4 325.0,336.4 325.0,328.6 C325.0,314.3 331.3,300.5 334.0,289.0Z M362.0,280.0 C365.9,294.2 375.0,311.4 375.0,329.0 C375.0,338.7 349.0,338.7 349.0,329.0 C349.0,311.4 358.1,294.2 362.0,280.0Z M251.6,160.0 C252.4,200.0 254.3,248.0 254.3,297.6 C254.3,324.8 248.8,324.8 248.8,297.6 C248.8,248.0 250.8,200.0 251.6,160.0Z M360.5,212.0 C361.2,239.0 362.8,271.4 362.8,304.9 C362.8,323.2 358.2,323.2 358.2,304.9 C358.2,271.4 359.8,239.0 360.5,212.0Z"/>
<path d="M127.0,335.0 L127.0,295.0 L130.0,288.0 L135.0,284.5 L140.5,287.0 L147.0,294.0 L154.0,303.0 L162.0,308.5 L169.0,304.0 L174.5,298.0 L177.0,294.5 L179.5,298.0 L183.0,305.0 L190.0,312.0 L195.5,319.0 L197.5,328.0 L196.5,335.0Z" stroke="#5c5c5c" stroke-width="6.8" stroke-linejoin="round"/>
</g>
<g filter="url(#b_mg)" fill="#707070">
<path d="M132.5,236.0 L138.5,236.0 L143.0,262.0 L144.5,290.0 L128.5,290.0 L129.5,258.0Z M134.2,101.0 C135.4,104.5 136.7,112.0 136.7,122.8 C136.7,130.9 131.7,130.9 131.7,122.8 C131.7,112.0 132.9,104.5 134.2,101.0Z M135.5,163.0 C136.9,167.4 138.2,177.1 138.2,190.8 C138.2,201.1 132.8,201.1 132.8,190.8 C132.8,177.1 134.1,167.4 135.5,163.0Z M127.0,335.0 L127.0,295.0 L130.0,288.0 L135.0,284.5 L140.5,287.0 L147.0,294.0 L154.0,303.0 L162.0,308.5 L169.0,304.0 L174.5,298.0 L177.0,294.5 L179.5,298.0 L183.0,305.0 L190.0,312.0 L195.5,319.0 L197.5,328.0 L196.5,335.0Z M207.5,311.0 C208.6,316.8 211.0,323.6 211.0,330.8 C211.0,334.7 204.0,334.7 204.0,330.8 C204.0,323.6 206.4,316.8 207.5,311.0Z M222.6,307.0 C224.5,313.8 229.1,321.9 229.1,330.2 C229.1,334.8 216.1,334.8 216.1,330.2 C216.1,321.9 220.7,313.8 222.6,307.0Z M239.7,295.0 C241.7,305.0 246.2,317.0 246.2,329.4 C246.2,336.2 233.1,336.2 233.1,329.4 C233.1,317.0 237.7,305.0 239.7,295.0Z M251.6,282.0 C253.9,295.8 259.1,312.2 259.1,329.3 C259.1,338.6 244.0,338.6 244.0,329.3 C244.0,312.2 249.3,295.8 251.6,282.0Z M263.8,288.0 C266.1,300.5 271.4,315.5 271.4,331.0 C271.4,339.5 256.2,339.5 256.2,331.0 C256.2,315.5 261.5,300.5 263.8,288.0Z M282.7,297.0 C285.5,306.5 292.0,317.9 292.0,329.7 C292.0,336.1 273.4,336.1 273.4,329.7 C273.4,317.9 279.9,306.5 282.7,297.0Z M302.7,284.0 C305.3,297.8 311.5,314.2 311.5,331.3 C311.5,340.6 293.9,340.6 293.9,331.3 C293.9,314.2 300.1,297.8 302.7,284.0Z M316.0,286.0 C318.2,298.8 323.3,314.1 323.3,329.9 C323.3,338.5 308.7,338.5 308.7,329.9 C308.7,314.1 313.8,298.8 316.0,286.0Z M334.0,296.0 C336.0,305.5 340.8,316.9 340.8,328.7 C340.8,335.1 327.2,335.1 327.2,328.7 C327.2,316.9 332.0,305.5 334.0,296.0Z M360.8,291.0 C363.7,302.6 370.6,316.6 370.6,331.0 C370.6,338.9 351.0,338.9 351.0,331.0 C351.0,316.6 357.9,302.6 360.8,291.0Z M375.9,313.0 C376.8,317.8 378.9,323.4 378.9,329.3 C378.9,332.6 372.9,332.6 372.9,329.3 C372.9,323.4 375.0,317.8 375.9,313.0Z M390.0,314.0 C390.7,318.2 392.2,323.4 392.2,328.6 C392.2,331.5 387.8,331.5 387.8,328.6 C387.8,323.4 389.3,318.2 390.0,314.0Z M399.0,316.0 C399.7,319.8 401.2,324.2 401.2,328.9 C401.2,331.4 396.8,331.4 396.8,328.9 C396.8,324.2 398.3,319.8 399.0,316.0Z"/>
</g>
<g filter="url(#b_lg)" fill="#868686">
<path d="M128.0,334.5 L128.0,297.0 L131.0,290.0 L135.0,286.5 L140.0,289.0 L146.0,296.0 L152.0,305.0 L158.0,311.0 L163.0,316.0 L164.0,326.0 L162.0,334.5Z M177.0,300.0 C178.9,308.8 183.5,319.2 183.5,330.1 C183.5,336.1 170.5,336.1 170.5,330.1 C170.5,319.2 175.1,308.8 177.0,300.0Z M190.0,317.0 C190.9,321.2 193.0,326.4 193.0,331.6 C193.0,334.5 187.0,334.5 187.0,331.6 C187.0,326.4 189.1,321.2 190.0,317.0Z M239.7,304.0 C240.7,311.5 242.9,320.5 242.9,329.8 C242.9,334.9 236.4,334.9 236.4,329.8 C236.4,320.5 238.7,311.5 239.7,304.0Z M251.6,291.0 C252.9,302.2 255.8,315.8 255.8,329.7 C255.8,337.4 247.3,337.4 247.3,329.7 C247.3,315.8 250.3,302.2 251.6,291.0Z M263.8,297.0 C265.1,307.0 268.1,319.0 268.1,331.4 C268.1,338.2 259.6,338.2 259.6,331.4 C259.6,319.0 262.5,307.0 263.8,297.0Z M282.7,306.0 C284.5,313.0 288.7,321.4 288.7,330.1 C288.7,334.8 276.7,334.8 276.7,330.1 C276.7,321.4 280.9,313.0 282.7,306.0Z M302.7,293.0 C304.3,304.2 308.2,317.8 308.2,331.7 C308.2,339.4 297.2,339.4 297.2,331.7 C297.2,317.8 301.1,304.2 302.7,293.0Z M316.0,295.0 C317.2,305.2 320.0,317.6 320.0,330.3 C320.0,337.2 312.0,337.2 312.0,330.3 C312.0,317.6 314.8,305.2 316.0,295.0Z M334.0,305.0 C335.1,312.0 337.5,320.4 337.5,329.1 C337.5,333.8 330.5,333.8 330.5,329.1 C330.5,320.4 332.9,312.0 334.0,305.0Z M360.8,300.0 C362.8,309.1 367.3,320.1 367.3,331.4 C367.3,337.6 354.3,337.6 354.3,331.4 C354.3,320.1 358.9,309.1 360.8,300.0Z M222.6,314.0 C223.5,318.5 225.6,323.9 225.6,329.5 C225.6,332.5 219.6,332.5 219.6,329.5 C219.6,323.9 221.7,318.5 222.6,314.0Z"/>
</g>
<g filter="url(#b_rd)" fill="#bfbfbf">
<path d="M134.0,291.5 C135.6,290.8 138.1,295.8 140.0,299.0 C141.9,302.2 144.2,306.5 145.5,311.0 C146.8,315.5 147.7,321.8 148.0,326.0 C148.3,330.2 148.5,333.6 147.5,336.0 C146.5,338.4 144.4,339.8 142.0,340.5 C139.6,341.2 135.2,341.2 133.0,340.5 C130.8,339.8 129.8,339.4 129.0,336.0 C128.2,332.6 128.2,325.5 128.4,320.0 C128.6,314.5 129.4,307.8 130.3,303.0 C131.2,298.2 132.4,292.2 134.0,291.5 Z M151.5,308.0 C154.2,311.2 157.0,318.3 157.0,328.2 C157.0,335.8 146.0,335.8 146.0,328.2 C146.0,318.3 148.8,311.2 151.5,308.0Z M177.0,312.0 C179.0,314.8 181.0,320.7 181.0,329.2 C181.0,335.7 173.0,335.7 173.0,329.2 C173.0,320.7 175.0,314.8 177.0,312.0Z"/>
</g>
<g filter="url(#b_mag)" fill="#dedede">
<path d="M135.5,304.0 C136.7,304.3 138.3,308.0 139.5,311.0 C140.7,314.0 142.0,318.5 142.5,322.0 C143.0,325.5 143.1,329.3 142.7,332.0 C142.3,334.7 141.4,337.0 140.0,338.0 C138.6,339.0 135.5,338.8 134.0,338.0 C132.5,337.2 131.5,336.0 131.0,333.0 C130.5,330.0 130.6,324.0 130.8,320.0 C131.1,316.0 131.7,311.7 132.5,309.0 C133.3,306.3 134.3,303.7 135.5,304.0 Z"/>
</g>
<g filter="url(#b_pu)" fill="#f2f2f2">
<path d="M135.5,310.5 C136.5,310.5 137.8,315.2 138.5,318.0 C139.2,320.8 139.8,324.3 139.7,327.0 C139.6,329.7 138.9,332.8 138.0,334.0 C137.1,335.2 135.0,335.3 134.0,334.5 C133.0,333.7 132.4,331.8 132.2,329.0 C132.0,326.2 132.0,321.1 132.6,318.0 C133.2,314.9 134.5,310.5 135.5,310.5 Z"/>
</g>
<g filter="url(#b_lav)" fill="#ffffff">
<path d="M133.7,328.5 a0.9,2.2 0 1,0 1.8,0 a0.9,2.2 0 1,0 -1.8,0Z"/>
</g>
<path d="M60,90 L126.3,90 L125.8,110 L121.8,225 L121.6,350 L60,350Z" fill="#000" filter="url(#b_rd)"/>
<path d="M60,342.4 H570 V360 H60Z" fill="#000" filter="url(#b_mag)"/>
</g>
<mask id="m_cmA" maskUnits="userSpaceOnUse" x="71.5" y="97.5" width="486.3" height="245.9"><g filter="url(#thA)"><use href="#f_cmA"/></g></mask>
</defs>
<g filter="url(#cmA)"><use href="#f_cmA"/></g>
<rect x="71.5" y="97.5" width="486.3" height="245.9" fill="url(#dots)" mask="url(#m_cmA)"/>
<path d="M71.5,97.3 H557.8 M71.5,97.0 V344.0 M71.0,343.4 H558.1999999999999 M557.8,97.0 V343.4" stroke="#2a3338" stroke-width="1.1" fill="none"/>
<path d="M96.7,343.4 v-3 M127.7,343.4 v-5.5 M158.7,343.4 v-3 M189.7,343.4 v-5.5 M220.7,343.4 v-3 M251.7,343.4 v-5.5 M282.7,343.4 v-3 M313.7,343.4 v-5.5 M344.7,343.4 v-3 M375.7,343.4 v-5.5 M406.7,343.4 v-3 M437.7,343.4 v-5.5 M468.7,343.4 v-3 M499.7,343.4 v-5.5 M530.7,343.4 v-3 M71.5,312.7 h3 M71.5,281.9 h5 M71.5,251.2 h3 M71.5,220.4 h5 M71.5,189.7 h3 M71.5,159.0 h5 M71.5,128.2 h3" stroke="#1a2226" stroke-width="0.9" fill="none"/>
<text x="68.9" y="106.39999999999999" font-size="12" textLength="15.8" lengthAdjust="spacingAndGlyphs" text-anchor="end" >20</text>
<text x="68.9" y="168.9" font-size="12" textLength="15.8" lengthAdjust="spacingAndGlyphs" text-anchor="end" >15</text>
<text x="68.9" y="230.79999999999998" font-size="12" textLength="15.8" lengthAdjust="spacingAndGlyphs" text-anchor="end" >10</text>
<text x="68.9" y="292.40000000000003" font-size="12" textLength="7.6" lengthAdjust="spacingAndGlyphs" text-anchor="end" >5</text>
<text x="68.9" y="355.20000000000005" font-size="12" textLength="7.6" lengthAdjust="spacingAndGlyphs" text-anchor="end" >0</text>
<text x="125.0" y="359.6" font-size="16.4" textLength="14.2" lengthAdjust="spacingAndGlyphs" text-anchor="middle" >400</text>
<text x="187.4" y="359.6" font-size="16.4" textLength="14.2" lengthAdjust="spacingAndGlyphs" text-anchor="middle" >410</text>
<text x="249.9" y="359.6" font-size="16.4" textLength="14.2" lengthAdjust="spacingAndGlyphs" text-anchor="middle" >420</text>
<text x="312.4" y="359.6" font-size="16.4" textLength="14.2" lengthAdjust="spacingAndGlyphs" text-anchor="middle" >430</text>
<text x="374.8" y="359.6" font-size="16.4" textLength="14.2" lengthAdjust="spacingAndGlyphs" text-anchor="middle" >440</text>
<text x="437.2" y="359.6" font-size="16.4" textLength="14.2" lengthAdjust="spacingAndGlyphs" text-anchor="middle" >450</text>
<text x="499.7" y="359.6" font-size="16.4" textLength="14.2" lengthAdjust="spacingAndGlyphs" text-anchor="middle" >460</text>
<text x="250.6" y="381" font-size="18.4" textLength="49.4" lengthAdjust="spacing">Time</text>
<text x="308.9" y="381" font-size="18.4" textLength="49.9" lengthAdjust="spacingAndGlyphs">(msec)</text>
<rect x="572.3" y="126.2" width="15.7" height="183.2" fill="url(#cbar)"/>
<text x="568.9" y="120.5" font-size="14.6" textLength="24.7" lengthAdjust="spacingAndGlyphs" text-anchor="start" >max</text>
<text x="568.9" y="322.2" font-size="14.6" textLength="22.1" lengthAdjust="spacingAndGlyphs" text-anchor="start" >min</text>
<text x="595.3" y="160.1" font-size="11.9" fill="#2e2e2e">a</text>
<text x="595.3" y="174.8" font-size="11.9" fill="#2e2e2e">m</text>
<text x="595.3" y="188.1" font-size="11.9" fill="#2e2e2e">p</text>
<text x="595.3" y="203.4" font-size="11.9" fill="#2e2e2e">l</text>
<text x="595.3" y="217.8" font-size="11.9" fill="#2e2e2e">i</text>
<text x="595.3" y="233.7" font-size="11.9" fill="#2e2e2e">t</text>
<text x="595.3" y="248.4" font-size="11.9" fill="#2e2e2e">u</text>
<text x="595.3" y="262.3" font-size="11.9" fill="#2e2e2e">d</text>
<text x="595.3" y="277.6" font-size="11.9" fill="#2e2e2e">e</text>
<text transform="translate(45.2,274.6) rotate(-90)" font-size="15.6" textLength="110.2" lengthAdjust="spacingAndGlyphs">Frecuency (Hz)</text>
<!-- panel B -->
<text x="2.6" y="493.2" font-size="15.8">B</text>
<text x="209.8" y="498.0" font-size="17.2" textLength="199.6" lengthAdjust="spacingAndGlyphs" text-anchor="start" >Fragmentation Experiment</text>
<rect x="62.5" y="504.2" width="493.6" height="69.0" fill="#fff" stroke="#808080" stroke-width="1"/>
<path d="M78.6,573.2 v-3.5 M95.1,573.2 v-6 M111.6,573.2 v-3.5 M128.1,573.2 v-3.5 M144.6,573.2 v-3.5 M161.1,573.2 v-6 M177.6,573.2 v-3.5 M194.1,573.2 v-3.5 M210.6,573.2 v-3.5 M227.1,573.2 v-6 M243.6,573.2 v-3.5 M260.1,573.2 v-3.5 M276.6,573.2 v-3.5 M293.1,573.2 v-6 M309.6,573.2 v-3.5 M326.1,573.2 v-3.5 M342.6,573.2 v-3.5 M359.1,573.2 v-6 M375.6,573.2 v-3.5 M392.1,573.2 v-3.5 M408.6,573.2 v-3.5 M425.1,573.2 v-6 M441.6,573.2 v-3.5 M458.1,573.2 v-3.5 M474.6,573.2 v-3.5 M491.1,573.2 v-6 M507.6,573.2 v-3.5 M524.1,573.2 v-3.5 M540.6,573.2 v-3.5" stroke="#555" stroke-width="0.8" fill="none"/>
<polyline points="62.5,537.1 92.5,537.1" fill="none" stroke="#222" stroke-width="1.2" stroke-linejoin="round"/>
<polyline points="92.2,536.8 92.6,559.9 93.2,539.4 93.7,562.3 94.2,530.2 94.8,561.1 95.3,530.7 95.9,508.0 96.3,513.7 96.8,570.0 97.3,514.6 97.8,546.2 98.4,519.3 98.9,551.6 99.4,509.0 99.8,555.7 100.5,569.0 100.9,555.8 101.5,514.8 102.1,557.2 102.5,520.1 103.1,553.8 103.7,514.6 104.2,542.0 104.8,519.1 105.6,548.4 106.2,514.0 107.0,539.9 107.9,518.7 109.0,541.4 110.0,523.1" fill="none" stroke="#161616" stroke-width="0.8" stroke-linejoin="round"/>
<polyline points="110.0,523.1 111.1,545.2 112.3,519.2 113.6,538.8 114.9,526.7 116.2,546.5 117.9,521.3 119.5,547.9 121.0,522.3 122.7,542.5 124.2,517.7 126.0,547.1 127.7,523.8 129.6,551.2 131.4,528.8 133.2,546.0 135.2,530.4 137.0,550.0 139.3,521.9 140.9,547.2 143.1,527.9 145.0,547.3 146.9,530.8 149.0,550.0 151.0,531.6 152.9,546.0 154.6,524.4 156.3,548.5 158.5,526.3 160.6,558.1 162.8,530.9 164.7,559.4 166.2,521.3 167.3,561.0 168.6,522.2 170.1,571.0 171.3,506.8 173.0,548.4 174.6,516.5 176.2,545.4 177.7,525.1 179.5,548.0 181.1,518.7 183.0,553.7 185.2,521.0 187.6,552.2 189.8,525.4 191.7,545.4 193.7,532.1 195.8,548.5 197.8,532.8 199.7,562.3" fill="none" stroke="#2c2c2c" stroke-width="0.62" stroke-linejoin="round"/>
<polyline points="199.7,562.3 201.9,542.6 204.0,557.0 206.5,527.6 209.0,548.9 211.2,531.6 213.4,540.5 215.8,520.4 218.4,541.5 220.8,526.2 223.2,546.4 225.8,538.3 227.7,554.8 230.2,527.4 232.2,551.1 234.4,526.9 236.9,544.0 239.3,526.5 241.3,545.8 243.6,532.5 245.5,549.2 247.6,537.1 250.1,554.7 252.3,534.3 254.6,550.4 257.0,531.8 259.5,546.2 262.0,532.9 263.8,540.6 266.0,527.0 268.2,545.5 270.0,530.6 272.3,543.8 274.6,528.0 277.2,546.4 279.8,526.9 281.7,545.0 283.7,529.0 286.1,546.5 288.0,533.7 290.0,542.1 292.3,524.3 294.3,538.9 296.8,532.5 299.4,546.5 301.2,541.6 303.5,550.8 306.0,533.6 308.7,544.7 310.8,528.7 312.7,539.1 315.3,526.7 317.9,541.4 319.9,530.2 322.1,545.1 324.6,532.9 327.2,543.1 329.2,525.4 331.6,540.7 334.1,532.3 336.4,546.1 338.4,536.5 340.2,547.7 342.3,531.5 344.9,543.6 346.7,533.6 348.6,543.7 350.7,533.7 352.6,546.1 354.6,530.4 356.4,540.8 358.7,534.4 361.2,544.3 363.4,529.2 365.3,541.3 367.5,531.2 369.8,543.4 372.5,534.7 375.3,545.9 377.3,533.6 379.1,541.4 381.7,528.8 384.4,537.1 386.7,531.5 389.2,539.8 391.8,531.2 394.2,537.9 396.9,532.4 398.7,541.5 400.8,535.3 402.9,542.0 404.9,533.8 407.5,543.4 409.3,534.9 411.8,541.2 413.6,534.4 415.7,542.6 417.8,535.6 419.8,541.1 422.0,533.4 424.2,542.3 426.2,535.7 428.6,543.7 430.4,537.7 432.3,543.0 434.3,537.9 436.3,542.2 438.2,535.6 440.6,540.9 442.9,534.0 444.7,538.9 446.6,534.9 448.5,539.5 450.5,533.9 452.3,537.7 454.3,533.4 456.7,538.2" fill="none" stroke="#4a4a4a" stroke-width="0.58" stroke-linejoin="round"/>
<polyline points="454.0,535.1 454.7,538.7 455.3,535.4 456.1,537.6 457.0,533.6 457.8,538.6 458.6,535.5 459.2,537.7 460.0,535.1 461.0,539.4 461.9,535.6 462.7,539.6 463.4,536.0 464.3,539.7 465.3,535.9 465.9,538.8 466.8,536.2 467.4,540.0 468.1,535.3 468.9,539.1 469.5,535.1 470.4,539.1 471.3,535.6 472.1,538.7 472.8,535.8 473.5,540.1 474.2,536.9 475.0,539.5 475.9,536.8 476.5,539.4 477.3,536.6 478.1,539.4 479.0,535.5 479.9,539.5 480.7,536.0 481.5,539.9 482.5,536.5 483.4,540.0 484.2,535.1 484.9,537.9 485.8,533.3 486.4,536.2 487.2,532.2 487.9,535.0 488.6,532.9 489.3,535.8 490.0,532.9 490.9,536.7 491.8,534.9 492.7,538.6 493.5,535.9 494.4,539.4 495.1,536.0 495.8,538.5 496.6,535.1 497.5,539.5 498.1,535.5 498.8,539.6 499.7,536.6 500.4,539.8 501.3,536.0 502.1,538.7 503.1,535.7 503.8,538.3 504.6,535.6 505.5,539.7 506.4,537.5 507.2,539.7 508.1,537.3 509.0,539.7 509.9,537.0 510.7,539.4 511.5,537.0 512.5,540.0 513.2,537.6 514.1,540.9 514.8,538.1 515.6,540.6 516.3,537.6 516.9,539.9 517.8,536.3 518.6,538.0 519.4,533.9 520.3,536.5 521.1,533.7 521.8,537.5 522.5,533.7 523.4,537.4 524.3,535.4 525.2,539.5 526.1,536.7 527.0,540.7 527.8,537.6 528.5,540.2 529.4,538.2 530.2,540.9 531.0,537.1 531.7,538.9 532.5,535.9 533.4,537.5 534.2,535.1 534.9,538.2 535.6,535.6 536.6,538.5 537.3,536.2 538.1,538.8 538.7,536.4 539.5,539.5 540.1,536.8 540.9,539.9 541.8,538.0 542.7,540.6 543.6,537.0 544.3,539.0 545.1,536.2 546.0,538.2 546.9,536.0 547.7,538.6 548.6,535.8 549.4,537.9 550.1,536.2 550.9,538.3 551.9,535.8 552.7,538.8 553.5,535.9 554.3,538.9 555.2,536.4 556.0,538.5 556.8,536.8" fill="none" stroke="#1c1c1c" stroke-width="0.9" stroke-linejoin="round"/>
<defs>
<g id="f_cmB">
<rect x="49.2" y="554.2" width="520.5999999999999" height="282.4" fill="#000"/>
<g filter="url(#b_cy)" fill="#1b1b1b">
<path d="M94.0,574.0 L198.0,574.0 L232.0,640.0 L264.0,700.0 L302.0,742.0 L420.0,762.0 L548.0,778.0 L548.0,816.0 L92.0,816.0Z M292.4,716.0 C300.0,741.0 317.7,771.1 317.7,802.1 C317.7,819.1 267.1,819.1 267.1,802.1 C267.1,771.1 284.8,741.0 292.4,716.0Z M311.8,715.0 C319.5,739.6 337.4,769.2 337.4,799.7 C337.4,816.5 286.2,816.5 286.2,799.7 C286.2,769.2 304.1,739.6 311.8,715.0Z M325.8,717.0 C333.3,741.1 350.9,770.1 350.9,800.0 C350.9,816.4 300.8,816.4 300.8,800.0 C300.8,770.1 318.3,741.1 325.8,717.0Z M358.0,728.0 C364.2,749.0 378.8,774.2 378.8,800.2 C378.8,814.5 337.2,814.5 337.2,800.2 C337.2,774.2 351.8,749.0 358.0,728.0Z M391.3,713.0 C398.7,738.2 416.1,768.5 416.1,799.9 C416.1,817.0 366.5,817.0 366.5,799.9 C366.5,768.5 383.9,738.2 391.3,713.0Z M407.4,753.0 C411.9,766.8 422.4,783.2 422.4,800.3 C422.4,809.6 392.4,809.6 392.4,800.3 C392.4,783.2 402.9,766.8 407.4,753.0Z M434.0,741.0 C440.0,758.4 454.0,779.2 454.0,800.7 C454.0,812.5 414.0,812.5 414.0,800.7 C414.0,779.2 428.0,758.4 434.0,741.0Z M456.5,731.0 C462.9,751.2 477.8,775.5 477.8,800.6 C477.8,814.3 435.2,814.3 435.2,800.6 C435.2,775.5 450.1,751.2 456.5,731.0Z M482.3,743.0 C487.1,759.4 498.3,779.0 498.3,799.3 C498.3,810.5 466.3,810.5 466.3,799.3 C466.3,779.0 477.5,759.4 482.3,743.0Z M501.6,748.0 C506.1,763.0 516.6,781.0 516.6,799.6 C516.6,809.8 486.6,809.8 486.6,799.6 C486.6,781.0 497.1,763.0 501.6,748.0Z M522.0,747.0 C527.7,762.9 541.0,781.9 541.0,801.5 C541.0,812.3 503.0,812.3 503.0,801.5 C503.0,781.9 516.3,762.9 522.0,747.0Z M542.5,765.0 C546.5,775.8 556.0,788.6 556.0,802.0 C556.0,809.3 529.0,809.3 529.0,802.0 C529.0,788.6 538.5,775.8 542.5,765.0Z M342.5,706.0 C351.2,733.0 371.6,765.4 371.6,798.9 C371.6,817.2 313.4,817.2 313.4,798.9 C313.4,765.4 333.8,733.0 342.5,706.0Z M456.5,725.0 C458.9,743.8 464.5,766.2 464.5,789.5 C464.5,802.2 448.5,802.2 448.5,789.5 C448.5,766.2 454.1,743.8 456.5,725.0Z M391.3,728.0 C393.4,746.0 398.3,767.6 398.3,789.9 C398.3,802.2 384.3,802.2 384.3,789.9 C384.3,767.6 389.2,746.0 391.3,728.0Z M342.5,715.0 C345.5,736.2 352.5,761.8 352.5,788.1 C352.5,802.5 332.5,802.5 332.5,788.1 C332.5,761.8 339.5,736.2 342.5,715.0Z M311.8,725.0 C313.6,743.8 317.8,766.2 317.8,789.5 C317.8,802.2 305.8,802.2 305.8,789.5 C305.8,766.2 310.0,743.8 311.8,725.0Z M358.0,725.0 C359.8,743.8 364.0,766.2 364.0,789.5 C364.0,802.2 352.0,802.2 352.0,789.5 C352.0,766.2 356.2,743.8 358.0,725.0Z M325.8,730.0 C327.6,747.5 331.8,768.5 331.8,790.2 C331.8,802.1 319.8,802.1 319.8,790.2 C319.8,768.5 324.0,747.5 325.8,730.0Z"/>
</g>
<g filter="url(#b_c2)" fill="#262626">
<path d="M92.0,816.0 L92.0,685.0 L125.0,685.0 L150.0,695.0 L200.0,698.0 L245.0,726.0 L300.0,756.0 L410.0,774.0 L412.0,816.0Z M112.0,570.0 C114.8,586.2 117.5,621.3 117.5,671.2 C117.5,709.0 106.5,709.0 106.5,671.2 C106.5,621.3 109.2,586.2 112.0,570.0Z M129.5,572.0 C133.2,583.2 137.0,607.3 137.0,641.8 C137.0,667.8 122.0,667.8 122.0,641.8 C122.0,607.3 125.8,583.2 129.5,572.0Z M150.0,635.0 C151.9,661.2 156.5,692.8 156.5,725.3 C156.5,743.1 143.5,743.1 143.5,725.3 C143.5,692.8 148.1,661.2 150.0,635.0Z M170.0,580.0 C176.0,599.2 182.0,640.8 182.0,700.0 C182.0,744.8 158.0,744.8 158.0,700.0 C158.0,640.8 164.0,599.2 170.0,580.0Z M187.0,635.0 C188.9,658.8 193.5,687.2 193.5,716.7 C193.5,732.9 180.5,732.9 180.5,716.7 C180.5,687.2 185.1,658.8 187.0,635.0Z M140.0,575.0 C142.2,581.0 144.5,594.0 144.5,612.5 C144.5,626.5 135.5,626.5 135.5,612.5 C135.5,594.0 137.8,581.0 140.0,575.0Z M210.0,680.0 C211.7,696.2 215.5,715.8 215.5,735.9 C215.5,747.0 204.5,747.0 204.5,735.9 C204.5,715.8 208.3,696.2 210.0,680.0Z M232.0,692.0 C233.7,706.0 237.5,722.8 237.5,740.2 C237.5,749.7 226.5,749.7 226.5,740.2 C226.5,722.8 230.3,706.0 232.0,692.0Z"/>
</g>
<g filter="url(#b_tl)" fill="#393939">
<path d="M92.0,812.0 L92.0,712.0 L122.0,712.0 L150.0,720.0 L190.0,727.0 L250.0,746.0 L300.0,766.0 L400.0,786.0 L400.0,812.0Z M170.0,592.0 C171.8,609.0 176.0,629.4 176.0,650.5 C176.0,662.0 164.0,662.0 164.0,650.5 C164.0,629.4 168.2,609.0 170.0,592.0Z M170.0,660.0 C171.8,677.0 176.0,697.4 176.0,718.5 C176.0,730.0 164.0,730.0 164.0,718.5 C164.0,697.4 168.2,677.0 170.0,660.0Z M129.5,576.0 C130.8,592.0 134.0,611.2 134.0,631.0 C134.0,641.9 125.0,641.9 125.0,631.0 C125.0,611.2 128.2,592.0 129.5,576.0Z M114.5,628.0 C116.2,663.0 120.0,705.0 120.0,748.4 C120.0,772.2 109.0,772.2 109.0,748.4 C109.0,705.0 112.8,663.0 114.5,628.0Z M150.0,655.0 C151.3,675.8 154.5,700.6 154.5,726.4 C154.5,740.5 145.5,740.5 145.5,726.4 C145.5,700.6 148.7,675.8 150.0,655.0Z M187.0,650.0 C188.3,670.0 191.5,694.0 191.5,718.8 C191.5,732.4 182.5,732.4 182.5,718.8 C182.5,694.0 185.7,670.0 187.0,650.0Z M140.0,580.0 C140.9,590.5 143.0,603.1 143.0,616.1 C143.0,623.3 137.0,623.3 137.0,616.1 C137.0,603.1 139.1,590.5 140.0,580.0Z M112.0,580.0 C112.9,595.0 115.0,613.0 115.0,631.6 C115.0,641.8 109.0,641.8 109.0,631.6 C109.0,613.0 111.1,595.0 112.0,580.0Z M94.5,574.0 L108.0,574.0 L112.0,640.0 L114.0,760.0 L88.2,760.0 L88.2,700.0 L90.0,650.0 L92.5,600.0Z M292.4,733.0 C297.7,753.4 310.2,777.8 310.2,803.1 C310.2,816.9 274.6,816.9 274.6,803.1 C274.6,777.8 287.1,753.4 292.4,733.0Z M311.8,732.0 C317.2,751.9 329.9,775.7 329.9,800.4 C329.9,813.9 293.8,813.9 293.8,800.4 C293.8,775.7 306.4,751.9 311.8,732.0Z M325.8,734.0 C331.1,753.4 343.4,776.6 343.4,800.6 C343.4,813.8 308.2,813.8 308.2,800.6 C308.2,776.6 320.5,753.4 325.8,734.0Z M358.0,745.0 C362.0,761.2 371.2,780.8 371.2,800.9 C371.2,812.0 344.8,812.0 344.8,800.9 C344.8,780.8 354.0,761.2 358.0,745.0Z M391.3,730.0 C396.5,750.5 408.6,775.1 408.6,800.5 C408.6,814.5 374.0,814.5 374.0,800.5 C374.0,775.1 386.1,750.5 391.3,730.0Z M407.4,770.0 C409.6,779.0 414.9,789.8 414.9,801.0 C414.9,807.1 399.9,807.1 399.9,801.0 C399.9,789.8 405.1,779.0 407.4,770.0Z M434.0,758.0 C437.8,770.6 446.5,785.7 446.5,801.3 C446.5,809.9 421.5,809.9 421.5,801.3 C421.5,785.7 430.2,770.6 434.0,758.0Z M456.5,748.0 C460.6,763.5 470.2,782.0 470.2,801.2 C470.2,811.8 442.8,811.8 442.8,801.2 C442.8,782.0 452.4,763.5 456.5,748.0Z M482.3,760.0 C484.9,771.6 490.8,785.6 490.8,800.0 C490.8,807.9 473.8,807.9 473.8,800.0 C473.8,785.6 479.8,771.6 482.3,760.0Z M501.6,765.0 C503.9,775.2 509.1,787.5 509.1,800.3 C509.1,807.2 494.1,807.2 494.1,800.3 C494.1,787.5 499.4,775.2 501.6,765.0Z M522.0,764.0 C525.5,775.1 533.5,788.4 533.5,802.2 C533.5,809.7 510.5,809.7 510.5,802.2 C510.5,788.4 518.5,775.1 522.0,764.0Z M542.5,782.0 C544.3,788.0 548.5,795.2 548.5,802.6 C548.5,806.7 536.5,806.7 536.5,802.6 C536.5,795.2 540.7,788.0 542.5,782.0Z M342.5,723.0 C349.0,745.2 364.1,772.0 364.1,799.5 C364.1,814.7 320.9,814.7 320.9,799.5 C320.9,772.0 336.0,745.2 342.5,723.0Z M300.0,812.0 L300.0,742.0 L345.0,733.0 L365.0,745.0 L392.0,738.0 L403.0,760.0 L407.0,812.0Z M456.5,745.0 C457.9,758.8 461.0,775.2 461.0,792.3 C461.0,801.6 452.0,801.6 452.0,792.3 C452.0,775.2 455.1,758.8 456.5,745.0Z M391.3,745.0 C392.5,758.8 395.3,775.2 395.3,792.3 C395.3,801.6 387.3,801.6 387.3,792.3 C387.3,775.2 390.1,758.8 391.3,745.0Z M358.0,750.0 C359.2,762.5 362.0,777.5 362.0,793.0 C362.0,801.5 354.0,801.5 354.0,793.0 C354.0,777.5 356.8,762.5 358.0,750.0Z"/>
<path d="M93.5,810.5 L93.5,745.0 L107.5,745.0 L109.0,768.0 L111.0,790.0 L114.5,794.5 L116.3,770.5 L118.0,750.5 L121.0,731.5 L124.5,752.5 L126.5,777.5 L129.5,794.5 L134.0,772.5 L140.0,765.5 L151.0,752.5 L160.0,741.5 L166.0,736.5 L175.0,739.5 L185.0,745.5 L193.0,752.5 L200.0,760.5 L208.6,752.5 L220.5,759.0 L231.0,751.5 L241.0,757.5 L246.0,765.5 L249.5,779.5 L251.5,800.0 L252.0,810.5Z" stroke="#393939" stroke-width="22.0" stroke-linejoin="round"/>
</g>
<g filter="url(#b_tg)" fill="#494949">
<path d="M170.0,600.0 C171.1,612.0 173.5,626.4 173.5,641.3 C173.5,649.4 166.5,649.4 166.5,641.3 C166.5,626.4 168.9,612.0 170.0,600.0Z M170.0,670.0 C171.1,684.5 173.8,701.9 173.8,719.9 C173.8,729.7 166.2,729.7 166.2,719.9 C166.2,701.9 168.9,684.5 170.0,670.0Z M130.0,584.0 C130.6,594.2 132.0,606.5 132.0,619.3 C132.0,626.2 128.0,626.2 128.0,619.3 C128.0,606.5 129.4,594.2 130.0,584.0Z M114.5,648.0 C115.7,678.0 118.5,714.0 118.5,751.2 C118.5,771.6 110.5,771.6 110.5,751.2 C110.5,714.0 113.3,678.0 114.5,648.0Z M407.4,780.0 C408.6,786.2 411.4,793.8 411.4,801.5 C411.4,805.8 403.4,805.8 403.4,801.5 C403.4,793.8 406.2,786.2 407.4,780.0Z M482.3,772.0 C483.5,780.4 486.3,790.4 486.3,800.8 C486.3,806.5 478.3,806.5 478.3,800.8 C478.3,790.4 481.1,780.4 482.3,772.0Z M501.6,780.0 C502.6,786.2 504.9,793.8 504.9,801.5 C504.9,805.8 498.4,805.8 498.4,801.5 C498.4,793.8 500.6,786.2 501.6,780.0Z M300.0,808.0 L300.0,764.0 L345.0,755.0 L375.0,770.0 L392.0,758.0 L399.0,780.0 L399.0,808.0Z"/>
<path d="M93.5,810.5 L93.5,745.0 L107.5,745.0 L109.0,768.0 L111.0,790.0 L114.5,794.5 L116.3,770.5 L118.0,750.5 L121.0,731.5 L124.5,752.5 L126.5,777.5 L129.5,794.5 L134.0,772.5 L140.0,765.5 L151.0,752.5 L160.0,741.5 L166.0,736.5 L175.0,739.5 L185.0,745.5 L193.0,752.5 L200.0,760.5 L208.6,752.5 L220.5,759.0 L231.0,751.5 L241.0,757.5 L246.0,765.5 L249.5,779.5 L251.5,800.0 L252.0,810.5Z" stroke="#494949" stroke-width="20.0" stroke-linejoin="round"/>
</g>
<g filter="url(#b_dg)" fill="#5c5c5c">
<path d="M170.0,608.0 C170.4,616.0 171.5,625.6 171.5,635.5 C171.5,641.0 168.5,641.0 168.5,635.5 C168.5,625.6 169.6,616.0 170.0,608.0Z M170.0,680.0 C170.7,693.5 172.2,709.7 172.2,726.4 C172.2,735.6 167.8,735.6 167.8,726.4 C167.8,709.7 169.3,693.5 170.0,680.0Z M114.5,672.0 C115.4,697.5 117.5,728.1 117.5,759.7 C117.5,777.1 111.5,777.1 111.5,759.7 C111.5,728.1 113.6,697.5 114.5,672.0Z M97.5,574.0 L104.5,574.0 L108.0,640.0 L111.0,700.0 L112.0,760.0 L89.6,760.0 L89.8,700.0 L92.5,650.0 L95.5,605.0Z M253.0,812.0 L253.0,775.0 L258.0,758.0 L266.0,750.5 L273.0,750.5 L281.0,756.5 L285.5,773.0 L286.0,812.0Z M292.4,747.0 C295.8,763.4 303.7,783.1 303.7,803.4 C303.7,814.6 281.1,814.6 281.1,803.4 C281.1,783.1 289.0,763.4 292.4,747.0Z M311.8,746.0 C315.3,761.9 323.4,781.0 323.4,800.7 C323.4,811.5 300.2,811.5 300.2,800.7 C300.2,781.0 308.3,761.9 311.8,746.0Z M325.8,748.0 C329.1,763.4 336.9,781.9 336.9,801.0 C336.9,811.4 314.8,811.4 314.8,801.0 C314.8,781.9 322.5,763.4 325.8,748.0Z M358.0,759.0 C360.0,771.3 364.8,786.0 364.8,801.2 C364.8,809.6 351.2,809.6 351.2,801.2 C351.2,786.0 356.0,771.3 358.0,759.0Z M391.3,744.0 C394.5,760.5 402.1,780.4 402.1,800.8 C402.1,812.1 380.5,812.1 380.5,800.8 C380.5,780.4 388.1,760.5 391.3,744.0Z M434.0,772.0 C435.8,780.6 440.0,791.0 440.0,801.7 C440.0,807.5 428.0,807.5 428.0,801.7 C428.0,791.0 432.2,780.6 434.0,772.0Z M456.5,762.0 C458.7,773.5 463.8,787.3 463.8,801.6 C463.8,809.4 449.2,809.4 449.2,801.6 C449.2,787.3 454.3,773.5 456.5,762.0Z M522.0,778.0 C523.5,785.1 527.0,793.7 527.0,802.5 C527.0,807.4 517.0,807.4 517.0,802.5 C517.0,793.7 520.5,785.1 522.0,778.0Z M342.5,737.0 C347.0,755.3 357.6,777.2 357.6,799.9 C357.6,812.3 327.4,812.3 327.4,799.9 C327.4,777.2 338.0,755.3 342.5,737.0Z M368.0,788.0 C370.7,792.9 377.0,798.7 377.0,804.8 C377.0,808.1 359.0,808.1 359.0,804.8 C359.0,798.7 365.3,792.9 368.0,788.0Z M482.3,784.0 C482.8,789.2 484.1,795.5 484.1,802.1 C484.1,805.6 480.6,805.6 480.6,802.1 C480.6,795.5 481.8,789.2 482.3,784.0Z"/>
<path d="M93.5,810.5 L93.5,745.0 L107.5,745.0 L109.0,768.0 L111.0,790.0 L114.5,794.5 L116.3,770.5 L118.0,750.5 L121.0,731.5 L124.5,752.5 L126.5,777.5 L129.5,794.5 L134.0,772.5 L140.0,765.5 L151.0,752.5 L160.0,741.5 L166.0,736.5 L175.0,739.5 L185.0,745.5 L193.0,752.5 L200.0,760.5 L208.6,752.5 L220.5,759.0 L231.0,751.5 L241.0,757.5 L246.0,765.5 L249.5,779.5 L251.5,800.0 L252.0,810.5Z" stroke="#5c5c5c" stroke-width="13.0" stroke-linejoin="round"/>
</g>
<g filter="url(#b_mg)" fill="#707070">
<path d="M99.6,600.0 L102.2,600.0 L105.0,640.0 L107.5,700.0 L109.5,760.0 L91.0,760.0 L91.2,700.0 L94.5,648.0 L97.8,615.0Z M254.8,810.5 L254.8,777.0 L259.2,762.5 L266.0,756.0 L272.5,756.0 L279.2,761.0 L283.2,775.0 L283.7,810.5Z M292.4,754.0 C294.7,768.2 300.2,785.4 300.2,803.0 C300.2,812.7 284.6,812.7 284.6,803.0 C284.6,785.4 290.1,768.2 292.4,754.0Z M311.8,753.0 C314.2,766.8 319.9,783.2 319.9,800.3 C319.9,809.6 303.8,809.6 303.8,800.3 C303.8,783.2 309.4,766.8 311.8,753.0Z M325.8,755.0 C328.1,768.2 333.4,784.1 333.4,800.6 C333.4,809.6 318.2,809.6 318.2,800.6 C318.2,784.1 323.5,768.2 325.8,755.0Z M358.0,766.0 C359.0,776.1 361.2,788.3 361.2,800.8 C361.2,807.7 354.8,807.7 354.8,800.8 C354.8,788.3 357.0,776.1 358.0,766.0Z M391.3,751.0 C393.5,765.4 398.6,782.6 398.6,800.5 C398.6,810.2 384.0,810.2 384.0,800.5 C384.0,782.6 389.1,765.4 391.3,751.0Z M342.5,744.0 C346.0,760.1 354.1,779.5 354.1,799.5 C354.1,810.4 330.9,810.4 330.9,799.5 C330.9,779.5 339.0,760.1 342.5,744.0Z M456.5,778.0 C457.3,785.2 459.2,794.0 459.2,802.9 C459.2,807.9 453.8,807.9 453.8,802.9 C453.8,794.0 455.7,785.2 456.5,778.0Z M93.0,811.0 L93.0,801.0 L300.0,801.0 L300.0,811.0Z"/>
<path d="M93.5,810.5 L93.5,745.0 L107.5,745.0 L109.0,768.0 L111.0,790.0 L114.5,794.5 L116.3,770.5 L118.0,750.5 L121.0,731.5 L124.5,752.5 L126.5,777.5 L129.5,794.5 L134.0,772.5 L140.0,765.5 L151.0,752.5 L160.0,741.5 L166.0,736.5 L175.0,739.5 L185.0,745.5 L193.0,752.5 L200.0,760.5 L208.6,752.5 L220.5,759.0 L231.0,751.5 L241.0,757.5 L246.0,765.5 L249.5,779.5 L251.5,800.0 L252.0,810.5Z" stroke="#707070" stroke-width="5.0" stroke-linejoin="round"/>
</g>
<g filter="url(#b_lg)" fill="#868686">
<path d="M99.8,622.0 L101.6,622.0 L103.4,655.0 L104.6,690.0 L105.8,715.0 L108.0,745.0 L92.8,745.0 L93.3,715.0 L95.6,690.0 L97.8,655.0Z M93.5,810.5 L93.5,745.0 L107.5,745.0 L109.0,768.0 L111.0,790.0 L114.5,794.5 L116.3,770.5 L118.0,750.5 L121.0,731.5 L124.5,752.5 L126.5,777.5 L129.5,794.5 L134.0,772.5 L140.0,765.5 L151.0,752.5 L160.0,741.5 L166.0,736.5 L175.0,739.5 L185.0,745.5 L193.0,752.5 L200.0,760.5 L208.6,752.5 L220.5,759.0 L231.0,751.5 L241.0,757.5 L246.0,765.5 L249.5,779.5 L251.5,800.0 L252.0,810.5Z M257.0,808.0 L257.0,780.0 L260.5,767.0 L266.0,760.5 L272.0,760.0 L277.5,765.0 L281.0,777.0 L281.5,808.0Z M292.4,763.0 C293.8,774.8 296.9,788.9 296.9,803.4 C296.9,811.4 287.9,811.4 287.9,803.4 C287.9,788.9 291.0,774.8 292.4,763.0Z M311.8,762.0 C313.2,773.2 316.6,786.8 316.6,800.7 C316.6,808.4 307.1,808.4 307.1,800.7 C307.1,786.8 310.4,773.2 311.8,762.0Z M325.8,764.0 C327.1,774.8 330.1,787.6 330.1,801.0 C330.1,808.3 321.6,808.3 321.6,801.0 C321.6,787.6 324.5,774.8 325.8,764.0Z M391.3,760.0 C392.5,771.9 395.3,786.1 395.3,800.9 C395.3,808.9 387.3,808.9 387.3,800.9 C387.3,786.1 390.1,771.9 391.3,760.0Z M342.5,753.0 C345.0,766.6 350.8,783.0 350.8,799.9 C350.8,809.1 334.2,809.1 334.2,799.9 C334.2,783.0 340.0,766.6 342.5,753.0Z M342.5,757.0 C345.8,763.0 349.0,776.0 349.0,794.5 C349.0,808.5 336.0,808.5 336.0,794.5 C336.0,776.0 339.2,763.0 342.5,757.0Z"/>
</g>
<g filter="url(#b_or)" fill="#b0b0b0">
<path d="M196.0,807.0 L196.0,786.0 L203.0,781.0 L222.0,786.0 L226.0,807.0Z M219.5,802.0 C219.1,798.5 219.4,789.3 220.5,785.0 C221.6,780.7 223.9,777.8 226.0,776.0 C228.1,774.2 230.7,773.8 233.0,774.5 C235.3,775.2 238.2,777.1 240.0,780.0 C241.8,782.9 243.1,788.0 243.5,792.0 C243.9,796.0 245.9,801.7 242.5,804.0 C239.1,806.3 226.8,806.3 223.0,806.0 C219.2,805.7 219.9,805.5 219.5,802.0 Z"/>
</g>
<g filter="url(#b_rd)" fill="#bfbfbf">
<path d="M101.5,729.0 C102.6,729.5 103.8,738.2 105.0,745.0 C106.2,751.8 107.7,761.7 109.0,770.0 C110.3,778.3 112.1,789.0 113.0,795.0 C113.9,801.0 114.8,803.4 114.3,806.0 C113.8,808.6 112.4,809.8 110.0,810.5 C107.6,811.2 102.2,811.4 100.0,810.5 C97.8,809.6 97.2,813.4 96.6,805.0 C96.0,796.6 96.3,770.5 96.6,760.0 C96.9,749.5 97.8,747.2 98.6,742.0 C99.4,736.8 100.4,728.5 101.5,729.0 Z M121.3,761.0 C122.1,761.3 123.0,766.8 124.0,772.0 C125.0,777.2 126.5,786.3 127.0,792.0 C127.5,797.7 127.8,803.0 127.3,806.0 C126.8,809.0 125.5,809.3 124.0,810.0 C122.5,810.7 119.4,810.8 118.0,810.0 C116.6,809.2 115.8,809.2 115.5,805.0 C115.2,800.8 115.9,790.8 116.5,785.0 C117.1,779.2 118.2,774.0 119.0,770.0 C119.8,766.0 120.5,760.7 121.3,761.0 Z M130.0,804.0 L130.5,785.0 L135.0,779.0 L143.0,774.0 L151.0,768.0 L157.5,755.0 L162.0,746.0 L166.0,741.5 L171.5,743.0 L177.0,747.0 L186.0,754.5 L193.0,764.0 L198.0,778.0 L199.5,798.0 L196.0,808.5 L134.0,809.5Z M208.5,767.0 C213.2,771.9 218.0,782.6 218.0,797.8 C218.0,809.2 199.0,809.2 199.0,797.8 C199.0,782.6 203.8,771.9 208.5,767.0Z M198.0,806.0 L198.0,790.0 L222.0,792.0 L224.0,806.0Z M222.5,801.0 C222.1,798.3 222.6,790.5 223.5,787.0 C224.4,783.5 226.4,781.2 228.0,780.0 C229.6,778.8 231.3,778.7 233.0,779.5 C234.7,780.3 236.8,781.9 238.0,785.0 C239.2,788.1 242.0,795.0 240.0,798.0 C238.0,801.0 228.9,802.5 226.0,803.0 C223.1,803.5 222.9,803.7 222.5,801.0 Z"/>
</g>
<g filter="url(#b_pk)" fill="#cfcfcf">
<path d="M99.0,800.0 C98.1,795.8 98.2,781.3 98.5,775.0 C98.8,768.7 99.8,762.0 100.5,762.0 C101.2,762.0 101.9,768.7 102.5,775.0 C103.1,781.3 104.6,795.8 104.0,800.0 C103.4,804.2 99.9,804.2 99.0,800.0 Z M138.0,804.0 C135.0,802.7 138.0,797.8 140.0,796.0 C142.0,794.2 147.0,793.2 150.0,793.0 C153.0,792.8 156.7,793.2 158.0,795.0 C159.3,796.8 161.3,802.5 158.0,804.0 C154.7,805.5 141.0,805.3 138.0,804.0 Z M121.5,785.0 C122.2,790.2 124.0,796.5 124.0,803.1 C124.0,806.6 119.0,806.6 119.0,803.1 C119.0,796.5 120.8,790.2 121.5,785.0Z M208.5,788.0 C209.6,792.2 212.0,797.4 212.0,802.6 C212.0,805.5 205.0,805.5 205.0,802.6 C205.0,797.4 207.4,792.2 208.5,788.0Z"/>
</g>
<g filter="url(#b_mag)" fill="#dedede">
<path d="M163.0,802.0 L162.8,776.0 L166.0,759.0 L172.0,758.0 L180.0,765.0 L188.0,775.0 L194.0,790.0 L194.5,802.0 L186.0,807.0 L166.0,807.0Z"/>
</g>
<g filter="url(#b_pu)" fill="#f2f2f2">
<path d="M170.0,763.0 C171.4,763.3 173.4,766.3 174.5,770.0 C175.6,773.7 176.4,780.0 176.7,785.0 C177.0,790.0 177.1,796.5 176.5,800.0 C175.9,803.5 174.8,805.0 173.0,806.0 C171.2,807.0 167.5,807.0 166.0,806.0 C164.5,805.0 164.2,804.3 163.8,800.0 C163.4,795.7 163.4,785.3 163.8,780.0 C164.2,774.7 165.0,770.8 166.0,768.0 C167.0,765.2 168.6,762.7 170.0,763.0 Z M187.0,791.0 C187.8,791.3 188.9,794.2 189.3,796.0 C189.7,797.8 190.2,800.7 189.6,802.0 C189.0,803.3 186.9,804.3 186.0,804.0 C185.1,803.7 184.5,801.7 184.3,800.0 C184.1,798.3 184.4,795.5 184.8,794.0 C185.2,792.5 186.2,790.7 187.0,791.0 Z"/>
</g>
<g filter="url(#b_lav)" fill="#ffffff">
<path d="M166.8,795.0 a1.0,5.0 0 1,0 2.0,0 a1.0,5.0 0 1,0 -2.0,0Z"/>
</g>
<path d="M60,570 L94.8,570 L94.3,585 L91.2,640 L88.2,700 L87.6,820 L60,820Z" fill="#000" filter="url(#b_rd)"/>
<path d="M60,815.4 H560 V830 H60Z" fill="#000" filter="url(#b_mag)"/>
</g>
<mask id="m_cmB" maskUnits="userSpaceOnUse" x="69.2" y="574.2" width="480.6" height="242.4"><g filter="url(#thB)"><use href="#f_cmB"/></g></mask>
</defs>
<g filter="url(#cmB)"><use href="#f_cmB"/></g>
<rect x="69.2" y="574.2" width="480.6" height="242.4" fill="url(#dots)" mask="url(#m_cmB)"/>
<path d="M69.2,574.0 H549.8 M69.2,573.7 V817.2 M68.7,816.6 H550.1999999999999 M549.8,573.7 V816.6" stroke="#2a3338" stroke-width="1.1" fill="none"/>
<path d="M78.6,816.6 v-3 M95.1,816.6 v-5.5 M111.6,816.6 v-3 M128.1,816.6 v-3 M144.6,816.6 v-3 M161.1,816.6 v-5.5 M177.6,816.6 v-3 M194.1,816.6 v-3 M210.6,816.6 v-3 M227.1,816.6 v-5.5 M243.6,816.6 v-3 M260.1,816.6 v-3 M276.6,816.6 v-3 M293.1,816.6 v-5.5 M309.6,816.6 v-3 M326.1,816.6 v-3 M342.6,816.6 v-3 M359.1,816.6 v-5.5 M375.6,816.6 v-3 M392.1,816.6 v-3 M408.6,816.6 v-3 M425.1,816.6 v-5.5 M441.6,816.6 v-3 M458.1,816.6 v-3 M474.6,816.6 v-3 M491.1,816.6 v-5.5 M507.6,816.6 v-3 M524.1,816.6 v-3 M540.6,816.6 v-3 M69.2,786.3 h3 M69.2,756.0 h5 M69.2,725.7 h3 M69.2,695.4 h5 M69.2,665.1 h3 M69.2,634.8 h5 M69.2,604.5 h3" stroke="#1a2226" stroke-width="0.9" fill="none"/>
<text x="64.0" y="584.7" font-size="12.2" textLength="9.6" lengthAdjust="spacingAndGlyphs" text-anchor="end" >20</text>
<text x="64.0" y="640.3000000000001" font-size="12.2" textLength="9.6" lengthAdjust="spacingAndGlyphs" text-anchor="end" >15</text>
<text x="64.0" y="701.9000000000001" font-size="12.2" textLength="9.6" lengthAdjust="spacingAndGlyphs" text-anchor="end" >10</text>
<text x="64.0" y="764.7" font-size="12.2" textLength="4.8" lengthAdjust="spacingAndGlyphs" text-anchor="end" >5</text>
<text x="64.0" y="826.7" font-size="12.2" textLength="4.8" lengthAdjust="spacingAndGlyphs" text-anchor="end" >0</text>
<text x="93.7" y="835.8" font-size="15.6" textLength="13.6" lengthAdjust="spacingAndGlyphs" text-anchor="middle" >400</text>
<text x="159.7" y="835.8" font-size="15.6" textLength="13.6" lengthAdjust="spacingAndGlyphs" text-anchor="middle" >410</text>
<text x="225.6" y="835.8" font-size="15.6" textLength="13.6" lengthAdjust="spacingAndGlyphs" text-anchor="middle" >420</text>
<text x="291.6" y="835.8" font-size="15.6" textLength="13.6" lengthAdjust="spacingAndGlyphs" text-anchor="middle" >430</text>
<text x="357.5" y="835.8" font-size="15.6" textLength="13.6" lengthAdjust="spacingAndGlyphs" text-anchor="middle" >440</text>
<text x="423.4" y="835.8" font-size="15.6" textLength="13.6" lengthAdjust="spacingAndGlyphs" text-anchor="middle" >450</text>
<text x="489.4" y="835.8" font-size="15.6" textLength="13.6" lengthAdjust="spacingAndGlyphs" text-anchor="middle" >460</text>
<text x="255.1" y="858.9" font-size="18.0" textLength="48.9" lengthAdjust="spacing">Time</text>
<text x="313.6" y="858.9" font-size="18.0" textLength="47.8" lengthAdjust="spacingAndGlyphs">(msec)</text>
<rect x="561.7" y="597.9" width="16.0" height="181.8" fill="url(#cbar)"/>
<text x="558.2" y="591.7" font-size="14.6" textLength="24.3" lengthAdjust="spacingAndGlyphs" text-anchor="start" >max</text>
<text x="557.6" y="796.4" font-size="14.6" textLength="22.1" lengthAdjust="spacingAndGlyphs" text-anchor="start" >min</text>
<text x="586.1" y="635.1" font-size="11.9" fill="#2e2e2e">a</text>
<text x="586.1" y="649.8" font-size="11.9" fill="#2e2e2e">m</text>
<text x="586.1" y="663.1" font-size="11.9" fill="#2e2e2e">p</text>
<text x="586.1" y="678.4" font-size="11.9" fill="#2e2e2e">l</text>
<text x="586.1" y="692.8" font-size="11.9" fill="#2e2e2e">i</text>
<text x="586.1" y="708.1" font-size="11.9" fill="#2e2e2e">t</text>
<text x="586.1" y="722.8" font-size="11.9" fill="#2e2e2e">u</text>
<text x="586.1" y="736.7" font-size="11.9" fill="#2e2e2e">d</text>
<text x="586.1" y="751.2" font-size="11.9" fill="#2e2e2e">e</text>
<text transform="translate(43.4,746.4) rotate(-90)" font-size="15.6" textLength="111" lengthAdjust="spacingAndGlyphs">Frecuency (Hz)</text>
</svg></body></html>
